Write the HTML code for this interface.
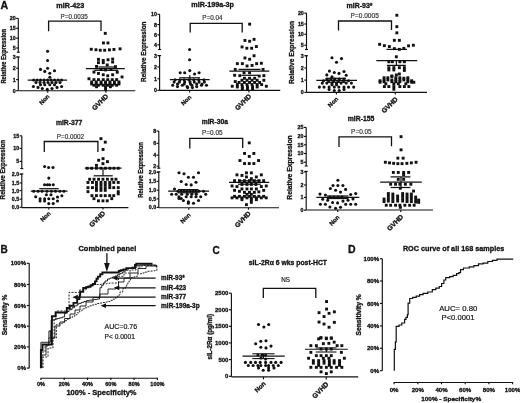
<!DOCTYPE html><html><head><meta charset="utf-8"><style>html,body{margin:0;padding:0;background:#fff;}svg{display:block;filter:blur(0.35px);}</style></head><body>
<svg width="520" height="403" viewBox="0 0 520 403" font-family='"Liberation Sans", sans-serif' fill="#111">
<rect width="520" height="403" fill="#fff"/>
<text x="0.5" y="9.0" font-size="10.6" font-weight="bold" stroke="#111" stroke-width="0.3" text-anchor="start" fill="#111">A</text>
<text x="0.4" y="253.3" font-size="10" font-weight="bold" stroke="#111" stroke-width="0.3" text-anchor="start" fill="#111">B</text>
<text x="212.5" y="253.8" font-size="10" font-weight="bold" stroke="#111" stroke-width="0.3" text-anchor="start" fill="#111">C</text>
<text x="348.0" y="252.8" font-size="10.5" font-weight="bold" stroke="#111" stroke-width="0.3" text-anchor="start" fill="#111">D</text>
<line x1="18.3" y1="18.4" x2="18.3" y2="52.2" stroke="#111" stroke-width="1.15"/>
<line x1="16.8" y1="52.2" x2="19.8" y2="52.2" stroke="#111" stroke-width="1.15"/>
<line x1="18.3" y1="57.0" x2="18.3" y2="90.7" stroke="#111" stroke-width="1.15"/>
<line x1="16.8" y1="57.0" x2="19.8" y2="57.0" stroke="#111" stroke-width="1.15"/>
<line x1="16.1" y1="18.4" x2="18.3" y2="18.4" stroke="#111" stroke-width="1.15"/>
<text x="15.6" y="20.31" font-size="5.3" font-weight="bold" stroke="#111" stroke-width="0.3" text-anchor="end" fill="#111">20</text>
<line x1="16.1" y1="28.3" x2="18.3" y2="28.3" stroke="#111" stroke-width="1.15"/>
<text x="15.6" y="30.21" font-size="5.3" font-weight="bold" stroke="#111" stroke-width="0.3" text-anchor="end" fill="#111">15</text>
<line x1="16.1" y1="38.2" x2="18.3" y2="38.2" stroke="#111" stroke-width="1.15"/>
<text x="15.6" y="40.11" font-size="5.3" font-weight="bold" stroke="#111" stroke-width="0.3" text-anchor="end" fill="#111">10</text>
<line x1="16.1" y1="48.0" x2="18.3" y2="48.0" stroke="#111" stroke-width="1.15"/>
<text x="15.6" y="49.91" font-size="5.3" font-weight="bold" stroke="#111" stroke-width="0.3" text-anchor="end" fill="#111">5</text>
<line x1="16.1" y1="57.0" x2="18.3" y2="57.0" stroke="#111" stroke-width="1.15"/>
<text x="15.6" y="58.91" font-size="5.3" font-weight="bold" stroke="#111" stroke-width="0.3" text-anchor="end" fill="#111">3</text>
<line x1="16.1" y1="68.2" x2="18.3" y2="68.2" stroke="#111" stroke-width="1.15"/>
<text x="15.6" y="70.11" font-size="5.3" font-weight="bold" stroke="#111" stroke-width="0.3" text-anchor="end" fill="#111">2</text>
<line x1="16.1" y1="79.6" x2="18.3" y2="79.6" stroke="#111" stroke-width="1.15"/>
<text x="15.6" y="81.51" font-size="5.3" font-weight="bold" stroke="#111" stroke-width="0.3" text-anchor="end" fill="#111">1</text>
<line x1="16.1" y1="90.7" x2="18.3" y2="90.7" stroke="#111" stroke-width="1.15"/>
<text x="15.6" y="92.61" font-size="5.3" font-weight="bold" stroke="#111" stroke-width="0.3" text-anchor="end" fill="#111">0</text>
<line x1="18.3" y1="90.7" x2="135.3" y2="90.7" stroke="#111" stroke-width="1.15"/>
<line x1="47.7" y1="90.7" x2="47.7" y2="92.7" stroke="#111" stroke-width="1.15"/>
<line x1="105.9" y1="90.7" x2="105.9" y2="92.7" stroke="#111" stroke-width="1.15"/>
<text transform="translate(49.9,96.9) rotate(-45)" font-size="6.0" font-weight="bold" stroke="#111" stroke-width="0.3" text-anchor="end" fill="#111">Non</text>
<text transform="translate(108.7,96.8) rotate(-45)" font-size="6.8" font-weight="bold" stroke="#111" stroke-width="0.3" text-anchor="end" fill="#111">GVHD</text>
<text transform="translate(5.8,56.3) rotate(-90)" font-size="6.4" font-weight="bold" stroke="#111" stroke-width="0.3" text-anchor="middle" textLength="54.6" lengthAdjust="spacingAndGlyphs" fill="#111">Relative Expression</text>
<text x="56.3" y="7.9" font-size="6.9" font-weight="bold" stroke="#111" stroke-width="0.3" text-anchor="start" textLength="28.0" lengthAdjust="spacingAndGlyphs" fill="#111">miR-423</text>
<text x="60.6" y="18.5" font-size="6.4" stroke="#333" stroke-width="0.18" text-anchor="start" textLength="27.1" lengthAdjust="spacingAndGlyphs" fill="#333">P=0.0035</text>
<polyline points="48.6,31.3 48.6,21.2 101.0,21.2 101.0,31.0" fill="none" stroke="#111" stroke-width="1.3" stroke-linejoin="miter"/>
<circle cx="47.6" cy="51.2" r="1.55"/>
<circle cx="47.6" cy="60.5" r="1.55"/>
<circle cx="47.6" cy="68.2" r="1.55"/>
<circle cx="40.5" cy="69.4" r="1.55"/>
<circle cx="54.5" cy="70.8" r="1.55"/>
<circle cx="44.8" cy="71.4" r="1.55"/>
<circle cx="49.8" cy="73.3" r="1.55"/>
<circle cx="49.8" cy="77.2" r="1.55"/>
<circle cx="33.7" cy="80.0" r="1.55"/>
<circle cx="37.2" cy="80.0" r="1.55"/>
<circle cx="40.6" cy="80.0" r="1.55"/>
<circle cx="44.1" cy="80.0" r="1.55"/>
<circle cx="47.6" cy="80.0" r="1.55"/>
<circle cx="51.1" cy="80.0" r="1.55"/>
<circle cx="54.6" cy="80.0" r="1.55"/>
<circle cx="58.1" cy="80.0" r="1.55"/>
<circle cx="61.6" cy="80.0" r="1.55"/>
<circle cx="36.0" cy="82.5" r="1.55"/>
<circle cx="40.0" cy="82.5" r="1.55"/>
<circle cx="44.0" cy="82.5" r="1.55"/>
<circle cx="48.0" cy="82.5" r="1.55"/>
<circle cx="52.0" cy="82.5" r="1.55"/>
<circle cx="56.0" cy="82.5" r="1.55"/>
<circle cx="60.0" cy="82.5" r="1.55"/>
<circle cx="40.5" cy="84.8" r="1.55"/>
<circle cx="44.8" cy="84.8" r="1.55"/>
<circle cx="49.8" cy="84.8" r="1.55"/>
<circle cx="54.5" cy="84.8" r="1.55"/>
<circle cx="33.4" cy="86.5" r="1.55"/>
<circle cx="61.6" cy="86.5" r="1.55"/>
<circle cx="38.0" cy="87.4" r="1.55"/>
<circle cx="57.0" cy="87.4" r="1.55"/>
<circle cx="42.3" cy="88.5" r="1.55"/>
<circle cx="52.0" cy="88.5" r="1.55"/>
<circle cx="47.3" cy="89.4" r="1.55"/>
<rect x="103.8" y="31.9" width="2.9" height="2.9"/>
<rect x="102.0" y="41.5" width="2.9" height="2.9"/>
<rect x="106.5" y="41.5" width="2.9" height="2.9"/>
<rect x="89.8" y="47.8" width="2.9" height="2.9"/>
<rect x="94.5" y="48.3" width="2.9" height="2.9"/>
<rect x="98.8" y="48.8" width="2.9" height="2.9"/>
<rect x="103.2" y="48.8" width="2.9" height="2.9"/>
<rect x="108.0" y="48.4" width="2.9" height="2.9"/>
<rect x="112.5" y="48.0" width="2.9" height="2.9"/>
<rect x="118.6" y="47.4" width="2.9" height="2.9"/>
<rect x="97.0" y="57.9" width="2.9" height="2.9"/>
<rect x="101.8" y="59.0" width="2.9" height="2.9"/>
<rect x="106.6" y="58.3" width="2.9" height="2.9"/>
<rect x="111.2" y="57.6" width="2.9" height="2.9"/>
<rect x="97.0" y="61.2" width="2.9" height="2.9"/>
<rect x="101.8" y="61.2" width="2.9" height="2.9"/>
<rect x="111.2" y="60.6" width="2.9" height="2.9"/>
<rect x="95.1" y="65.0" width="2.9" height="2.9"/>
<rect x="105.8" y="63.5" width="2.9" height="2.9"/>
<rect x="114.0" y="65.2" width="2.9" height="2.9"/>
<rect x="99.6" y="68.0" width="2.9" height="2.9"/>
<rect x="109.5" y="68.0" width="2.9" height="2.9"/>
<rect x="104.1" y="68.5" width="2.9" height="2.9"/>
<rect x="92.5" y="70.6" width="2.9" height="2.9"/>
<rect x="97.0" y="72.0" width="2.9" height="2.9"/>
<rect x="115.8" y="70.8" width="2.9" height="2.9"/>
<rect x="101.8" y="73.3" width="2.9" height="2.9"/>
<rect x="111.2" y="73.3" width="2.9" height="2.9"/>
<rect x="106.3" y="74.3" width="2.9" height="2.9"/>
<rect x="87.5" y="77.3" width="2.9" height="2.9"/>
<rect x="120.6" y="75.5" width="2.9" height="2.9"/>
<rect x="92.5" y="78.2" width="2.9" height="2.9"/>
<rect x="97.0" y="78.2" width="2.9" height="2.9"/>
<rect x="101.8" y="78.2" width="2.9" height="2.9"/>
<rect x="106.3" y="78.2" width="2.9" height="2.9"/>
<rect x="110.8" y="78.2" width="2.9" height="2.9"/>
<rect x="115.2" y="78.2" width="2.9" height="2.9"/>
<rect x="90.2" y="80.5" width="2.9" height="2.9"/>
<rect x="94.8" y="80.5" width="2.9" height="2.9"/>
<rect x="99.6" y="80.5" width="2.9" height="2.9"/>
<rect x="104.1" y="80.5" width="2.9" height="2.9"/>
<rect x="108.5" y="80.5" width="2.9" height="2.9"/>
<rect x="113.0" y="80.5" width="2.9" height="2.9"/>
<rect x="117.5" y="80.5" width="2.9" height="2.9"/>
<rect x="90.2" y="82.5" width="2.9" height="2.9"/>
<rect x="94.8" y="82.5" width="2.9" height="2.9"/>
<rect x="99.6" y="82.5" width="2.9" height="2.9"/>
<rect x="104.1" y="82.5" width="2.9" height="2.9"/>
<rect x="108.5" y="82.5" width="2.9" height="2.9"/>
<rect x="113.0" y="82.5" width="2.9" height="2.9"/>
<rect x="117.5" y="82.5" width="2.9" height="2.9"/>
<rect x="92.5" y="83.8" width="2.9" height="2.9"/>
<rect x="97.0" y="83.8" width="2.9" height="2.9"/>
<rect x="101.8" y="83.8" width="2.9" height="2.9"/>
<rect x="106.3" y="83.8" width="2.9" height="2.9"/>
<rect x="110.8" y="83.8" width="2.9" height="2.9"/>
<rect x="115.2" y="83.8" width="2.9" height="2.9"/>
<rect x="95.1" y="85.3" width="2.9" height="2.9"/>
<rect x="104.1" y="85.3" width="2.9" height="2.9"/>
<rect x="109.0" y="85.3" width="2.9" height="2.9"/>
<rect x="104.1" y="88.0" width="2.9" height="2.9"/>
<line x1="27.7" y1="80.0" x2="67.1" y2="80.0" stroke="#111" stroke-width="1.25"/>
<line x1="85.9" y1="68.5" x2="124.8" y2="68.5" stroke="#111" stroke-width="1.25"/>
<line x1="98.4" y1="67.0" x2="114.5" y2="67.0" stroke="#111" stroke-width="1.25"/>
<line x1="94.4" y1="70.3" x2="118.1" y2="70.3" stroke="#111" stroke-width="1.25"/>
<line x1="159.6" y1="14.3" x2="159.6" y2="49.5" stroke="#111" stroke-width="1.15"/>
<line x1="158.1" y1="49.5" x2="161.1" y2="49.5" stroke="#111" stroke-width="1.15"/>
<line x1="159.6" y1="55.6" x2="159.6" y2="90.4" stroke="#111" stroke-width="1.15"/>
<line x1="158.1" y1="55.6" x2="161.1" y2="55.6" stroke="#111" stroke-width="1.15"/>
<line x1="157.4" y1="14.3" x2="159.6" y2="14.3" stroke="#111" stroke-width="1.15"/>
<text x="156.9" y="16.21" font-size="5.3" font-weight="bold" stroke="#111" stroke-width="0.3" text-anchor="end" fill="#111">10</text>
<line x1="157.4" y1="24.6" x2="159.6" y2="24.6" stroke="#111" stroke-width="1.15"/>
<text x="156.9" y="26.51" font-size="5.3" font-weight="bold" stroke="#111" stroke-width="0.3" text-anchor="end" fill="#111">8</text>
<line x1="157.4" y1="34.8" x2="159.6" y2="34.8" stroke="#111" stroke-width="1.15"/>
<text x="156.9" y="36.71" font-size="5.3" font-weight="bold" stroke="#111" stroke-width="0.3" text-anchor="end" fill="#111">6</text>
<line x1="157.4" y1="44.8" x2="159.6" y2="44.8" stroke="#111" stroke-width="1.15"/>
<text x="156.9" y="46.71" font-size="5.3" font-weight="bold" stroke="#111" stroke-width="0.3" text-anchor="end" fill="#111">4</text>
<line x1="157.4" y1="55.6" x2="159.6" y2="55.6" stroke="#111" stroke-width="1.15"/>
<text x="156.9" y="57.51" font-size="5.3" font-weight="bold" stroke="#111" stroke-width="0.3" text-anchor="end" fill="#111">3</text>
<line x1="157.4" y1="67.0" x2="159.6" y2="67.0" stroke="#111" stroke-width="1.15"/>
<text x="156.9" y="68.91" font-size="5.3" font-weight="bold" stroke="#111" stroke-width="0.3" text-anchor="end" fill="#111">2</text>
<line x1="157.4" y1="78.8" x2="159.6" y2="78.8" stroke="#111" stroke-width="1.15"/>
<text x="156.9" y="80.71" font-size="5.3" font-weight="bold" stroke="#111" stroke-width="0.3" text-anchor="end" fill="#111">1</text>
<line x1="157.4" y1="90.4" x2="159.6" y2="90.4" stroke="#111" stroke-width="1.15"/>
<text x="156.9" y="92.31" font-size="5.3" font-weight="bold" stroke="#111" stroke-width="0.3" text-anchor="end" fill="#111">0</text>
<line x1="159.6" y1="90.4" x2="280.2" y2="90.4" stroke="#111" stroke-width="1.15"/>
<line x1="189.6" y1="90.4" x2="189.6" y2="92.4" stroke="#111" stroke-width="1.15"/>
<line x1="248.9" y1="90.4" x2="248.9" y2="92.4" stroke="#111" stroke-width="1.15"/>
<text transform="translate(191.8,97.6) rotate(-45)" font-size="6.0" font-weight="bold" stroke="#111" stroke-width="0.3" text-anchor="end" fill="#111">Non</text>
<text transform="translate(251.7,96.8) rotate(-45)" font-size="6.8" font-weight="bold" stroke="#111" stroke-width="0.3" text-anchor="end" fill="#111">GVHD</text>
<text transform="translate(146.45,51.75) rotate(-90)" font-size="6.8" font-weight="bold" stroke="#111" stroke-width="0.3" text-anchor="middle" textLength="60.3" lengthAdjust="spacingAndGlyphs" fill="#111">Relative Expression</text>
<text x="191.3" y="6.5" font-size="6.9" font-weight="bold" stroke="#111" stroke-width="0.3" text-anchor="start" textLength="42.7" lengthAdjust="spacingAndGlyphs" fill="#111">miR-199a-3p</text>
<text x="202.3" y="20.0" font-size="6.4" stroke="#333" stroke-width="0.18" text-anchor="start" textLength="20.2" lengthAdjust="spacingAndGlyphs" fill="#333">P=0.04</text>
<polyline points="190.2,32.6 190.2,23.3 242.2,23.3 242.2,32.6" fill="none" stroke="#111" stroke-width="1.3" stroke-linejoin="miter"/>
<circle cx="189.6" cy="49.5" r="1.55"/>
<circle cx="189.6" cy="59.8" r="1.55"/>
<circle cx="189.8" cy="70.6" r="1.55"/>
<circle cx="180.2" cy="72.7" r="1.55"/>
<circle cx="184.7" cy="72.7" r="1.55"/>
<circle cx="199.1" cy="72.7" r="1.55"/>
<circle cx="194.6" cy="74.0" r="1.55"/>
<circle cx="175.1" cy="79.7" r="1.55"/>
<circle cx="179.9" cy="79.7" r="1.55"/>
<circle cx="184.2" cy="79.7" r="1.55"/>
<circle cx="189.0" cy="79.7" r="1.55"/>
<circle cx="193.8" cy="79.7" r="1.55"/>
<circle cx="198.7" cy="79.7" r="1.55"/>
<circle cx="203.9" cy="79.7" r="1.55"/>
<circle cx="174.1" cy="82.1" r="1.55"/>
<circle cx="179.4" cy="82.1" r="1.55"/>
<circle cx="184.7" cy="82.1" r="1.55"/>
<circle cx="190.0" cy="82.1" r="1.55"/>
<circle cx="194.3" cy="82.1" r="1.55"/>
<circle cx="199.1" cy="82.1" r="1.55"/>
<circle cx="204.4" cy="82.1" r="1.55"/>
<circle cx="177.5" cy="84.0" r="1.55"/>
<circle cx="184.2" cy="84.0" r="1.55"/>
<circle cx="190.5" cy="84.0" r="1.55"/>
<circle cx="196.7" cy="84.0" r="1.55"/>
<circle cx="202.0" cy="84.0" r="1.55"/>
<circle cx="172.7" cy="85.2" r="1.55"/>
<circle cx="182.3" cy="85.2" r="1.55"/>
<circle cx="191.9" cy="85.2" r="1.55"/>
<circle cx="201.5" cy="85.2" r="1.55"/>
<circle cx="206.5" cy="85.2" r="1.55"/>
<circle cx="177.5" cy="86.6" r="1.55"/>
<circle cx="187.1" cy="86.6" r="1.55"/>
<circle cx="196.7" cy="86.6" r="1.55"/>
<circle cx="187.6" cy="87.6" r="1.55"/>
<circle cx="192.4" cy="87.6" r="1.55"/>
<rect x="248.2" y="22.7" width="2.9" height="2.9"/>
<rect x="243.5" y="39.0" width="2.9" height="2.9"/>
<rect x="248.2" y="39.8" width="2.9" height="2.9"/>
<rect x="252.6" y="37.9" width="2.9" height="2.9"/>
<rect x="240.6" y="45.5" width="2.9" height="2.9"/>
<rect x="245.4" y="46.8" width="2.9" height="2.9"/>
<rect x="250.2" y="46.8" width="2.9" height="2.9"/>
<rect x="254.9" y="45.1" width="2.9" height="2.9"/>
<rect x="243.5" y="56.5" width="2.9" height="2.9"/>
<rect x="248.2" y="57.8" width="2.9" height="2.9"/>
<rect x="252.6" y="54.3" width="2.9" height="2.9"/>
<rect x="235.9" y="62.2" width="2.9" height="2.9"/>
<rect x="240.9" y="62.2" width="2.9" height="2.9"/>
<rect x="255.2" y="62.2" width="2.9" height="2.9"/>
<rect x="245.6" y="64.5" width="2.9" height="2.9"/>
<rect x="250.6" y="64.0" width="2.9" height="2.9"/>
<rect x="259.9" y="61.8" width="2.9" height="2.9"/>
<rect x="233.8" y="68.0" width="2.9" height="2.9"/>
<rect x="261.6" y="68.0" width="2.9" height="2.9"/>
<rect x="242.6" y="71.3" width="2.9" height="2.9"/>
<rect x="248.1" y="71.3" width="2.9" height="2.9"/>
<rect x="233.2" y="73.8" width="2.9" height="2.9"/>
<rect x="238.4" y="74.2" width="2.9" height="2.9"/>
<rect x="262.4" y="74.2" width="2.9" height="2.9"/>
<rect x="257.8" y="74.6" width="2.9" height="2.9"/>
<rect x="243.0" y="76.8" width="2.9" height="2.9"/>
<rect x="248.1" y="76.8" width="2.9" height="2.9"/>
<rect x="253.2" y="76.8" width="2.9" height="2.9"/>
<rect x="240.5" y="78.8" width="2.9" height="2.9"/>
<rect x="245.6" y="78.8" width="2.9" height="2.9"/>
<rect x="250.6" y="78.8" width="2.9" height="2.9"/>
<rect x="255.7" y="78.8" width="2.9" height="2.9"/>
<rect x="262.4" y="78.8" width="2.9" height="2.9"/>
<rect x="233.8" y="80.1" width="2.9" height="2.9"/>
<rect x="237.6" y="81.0" width="2.9" height="2.9"/>
<rect x="243.0" y="81.0" width="2.9" height="2.9"/>
<rect x="248.1" y="81.0" width="2.9" height="2.9"/>
<rect x="253.2" y="81.0" width="2.9" height="2.9"/>
<rect x="258.2" y="81.0" width="2.9" height="2.9"/>
<rect x="235.9" y="83.1" width="2.9" height="2.9"/>
<rect x="240.5" y="83.1" width="2.9" height="2.9"/>
<rect x="245.6" y="83.1" width="2.9" height="2.9"/>
<rect x="250.6" y="83.1" width="2.9" height="2.9"/>
<rect x="255.7" y="83.1" width="2.9" height="2.9"/>
<rect x="260.2" y="83.1" width="2.9" height="2.9"/>
<rect x="230.8" y="84.8" width="2.9" height="2.9"/>
<rect x="264.9" y="84.8" width="2.9" height="2.9"/>
<rect x="235.9" y="85.5" width="2.9" height="2.9"/>
<rect x="240.9" y="85.5" width="2.9" height="2.9"/>
<rect x="246.0" y="85.5" width="2.9" height="2.9"/>
<rect x="251.1" y="85.5" width="2.9" height="2.9"/>
<rect x="255.7" y="85.5" width="2.9" height="2.9"/>
<rect x="240.9" y="87.1" width="2.9" height="2.9"/>
<rect x="246.0" y="87.1" width="2.9" height="2.9"/>
<rect x="251.1" y="87.1" width="2.9" height="2.9"/>
<line x1="169.8" y1="79.7" x2="209.7" y2="79.7" stroke="#111" stroke-width="1.25"/>
<line x1="179.4" y1="77.8" x2="200.1" y2="77.8" stroke="#111" stroke-width="1.25"/>
<line x1="229.3" y1="71.1" x2="269.3" y2="71.1" stroke="#111" stroke-width="1.25"/>
<line x1="238.5" y1="69.4" x2="260.5" y2="69.4" stroke="#111" stroke-width="1.25"/>
<line x1="241.5" y1="75.3" x2="258.0" y2="75.3" stroke="#111" stroke-width="1.25"/>
<line x1="189.8" y1="74.9" x2="189.8" y2="80.7" stroke="#111" stroke-width="1.2"/>
<line x1="306.5" y1="13.1" x2="306.5" y2="49.5" stroke="#111" stroke-width="1.15"/>
<line x1="305.0" y1="49.5" x2="308.0" y2="49.5" stroke="#111" stroke-width="1.15"/>
<line x1="306.5" y1="55.7" x2="306.5" y2="92.4" stroke="#111" stroke-width="1.15"/>
<line x1="305.0" y1="55.7" x2="308.0" y2="55.7" stroke="#111" stroke-width="1.15"/>
<line x1="304.3" y1="13.1" x2="306.5" y2="13.1" stroke="#111" stroke-width="1.15"/>
<text x="303.8" y="15.01" font-size="5.3" font-weight="bold" stroke="#111" stroke-width="0.3" text-anchor="end" fill="#111">20</text>
<line x1="304.3" y1="24.0" x2="306.5" y2="24.0" stroke="#111" stroke-width="1.15"/>
<text x="303.8" y="25.91" font-size="5.3" font-weight="bold" stroke="#111" stroke-width="0.3" text-anchor="end" fill="#111">15</text>
<line x1="304.3" y1="34.3" x2="306.5" y2="34.3" stroke="#111" stroke-width="1.15"/>
<text x="303.8" y="36.21" font-size="5.3" font-weight="bold" stroke="#111" stroke-width="0.3" text-anchor="end" fill="#111">10</text>
<line x1="304.3" y1="45.2" x2="306.5" y2="45.2" stroke="#111" stroke-width="1.15"/>
<text x="303.8" y="47.11" font-size="5.3" font-weight="bold" stroke="#111" stroke-width="0.3" text-anchor="end" fill="#111">5</text>
<line x1="304.3" y1="55.7" x2="306.5" y2="55.7" stroke="#111" stroke-width="1.15"/>
<text x="303.8" y="57.61" font-size="5.3" font-weight="bold" stroke="#111" stroke-width="0.3" text-anchor="end" fill="#111">3</text>
<line x1="304.3" y1="68.0" x2="306.5" y2="68.0" stroke="#111" stroke-width="1.15"/>
<text x="303.8" y="69.91" font-size="5.3" font-weight="bold" stroke="#111" stroke-width="0.3" text-anchor="end" fill="#111">2</text>
<line x1="304.3" y1="80.1" x2="306.5" y2="80.1" stroke="#111" stroke-width="1.15"/>
<text x="303.8" y="82.01" font-size="5.3" font-weight="bold" stroke="#111" stroke-width="0.3" text-anchor="end" fill="#111">1</text>
<line x1="304.3" y1="92.4" x2="306.5" y2="92.4" stroke="#111" stroke-width="1.15"/>
<text x="303.8" y="94.31" font-size="5.3" font-weight="bold" stroke="#111" stroke-width="0.3" text-anchor="end" fill="#111">0</text>
<line x1="306.5" y1="92.4" x2="427.0" y2="92.4" stroke="#111" stroke-width="1.15"/>
<line x1="336.4" y1="92.4" x2="336.4" y2="94.4" stroke="#111" stroke-width="1.15"/>
<line x1="395.3" y1="92.4" x2="395.3" y2="94.4" stroke="#111" stroke-width="1.15"/>
<text transform="translate(338.6,99.4) rotate(-45)" font-size="6.0" font-weight="bold" stroke="#111" stroke-width="0.3" text-anchor="end" fill="#111">Non</text>
<text transform="translate(398.1,99.7) rotate(-45)" font-size="6.8" font-weight="bold" stroke="#111" stroke-width="0.3" text-anchor="end" fill="#111">GVHD</text>
<text transform="translate(293.78,52.5) rotate(-90)" font-size="6.9" font-weight="bold" stroke="#111" stroke-width="0.3" text-anchor="middle" textLength="63.0" lengthAdjust="spacingAndGlyphs" fill="#111">Relative Expression</text>
<text x="346.5" y="7.8" font-size="6.9" font-weight="bold" stroke="#111" stroke-width="0.3" text-anchor="start" textLength="26.0" lengthAdjust="spacingAndGlyphs" fill="#111">miR-93*</text>
<text x="350.6" y="18.2" font-size="6.4" stroke="#333" stroke-width="0.18" text-anchor="start" textLength="28.2" lengthAdjust="spacingAndGlyphs" fill="#333">P=0.0005</text>
<polyline points="338.5,30.5 338.5,21.0 391.5,21.0 391.5,30.0" fill="none" stroke="#111" stroke-width="1.3" stroke-linejoin="miter"/>
<circle cx="332.0" cy="57.8" r="1.55"/>
<circle cx="341.5" cy="58.6" r="1.55"/>
<circle cx="336.5" cy="62.3" r="1.55"/>
<circle cx="329.4" cy="71.1" r="1.55"/>
<circle cx="334.3" cy="72.5" r="1.55"/>
<circle cx="339.0" cy="73.4" r="1.55"/>
<circle cx="344.0" cy="71.5" r="1.55"/>
<circle cx="326.8" cy="74.9" r="1.55"/>
<circle cx="346.2" cy="75.3" r="1.55"/>
<circle cx="332.0" cy="76.8" r="1.55"/>
<circle cx="326.8" cy="79.1" r="1.55"/>
<circle cx="330.8" cy="79.1" r="1.55"/>
<circle cx="334.8" cy="79.1" r="1.55"/>
<circle cx="339.4" cy="79.1" r="1.55"/>
<circle cx="344.0" cy="79.1" r="1.55"/>
<circle cx="323.5" cy="80.8" r="1.55"/>
<circle cx="328.5" cy="80.8" r="1.55"/>
<circle cx="333.5" cy="80.8" r="1.55"/>
<circle cx="338.5" cy="80.8" r="1.55"/>
<circle cx="343.5" cy="80.8" r="1.55"/>
<circle cx="348.5" cy="80.8" r="1.55"/>
<circle cx="322.3" cy="83.1" r="1.55"/>
<circle cx="326.8" cy="83.1" r="1.55"/>
<circle cx="332.0" cy="83.1" r="1.55"/>
<circle cx="336.5" cy="83.1" r="1.55"/>
<circle cx="341.1" cy="83.1" r="1.55"/>
<circle cx="346.2" cy="83.1" r="1.55"/>
<circle cx="351.4" cy="83.1" r="1.55"/>
<circle cx="332.0" cy="84.8" r="1.55"/>
<circle cx="336.5" cy="84.8" r="1.55"/>
<circle cx="319.4" cy="87.1" r="1.55"/>
<circle cx="324.0" cy="87.1" r="1.55"/>
<circle cx="329.1" cy="87.1" r="1.55"/>
<circle cx="334.3" cy="87.1" r="1.55"/>
<circle cx="338.8" cy="87.1" r="1.55"/>
<circle cx="344.0" cy="87.1" r="1.55"/>
<circle cx="348.5" cy="87.1" r="1.55"/>
<circle cx="353.7" cy="87.1" r="1.55"/>
<circle cx="329.1" cy="89.4" r="1.55"/>
<circle cx="344.0" cy="89.4" r="1.55"/>
<circle cx="334.3" cy="90.5" r="1.55"/>
<circle cx="339.2" cy="90.5" r="1.55"/>
<rect x="395.4" y="13.8" width="2.9" height="2.9"/>
<rect x="395.4" y="25.2" width="2.9" height="2.9"/>
<rect x="395.4" y="31.4" width="2.9" height="2.9"/>
<rect x="392.9" y="38.9" width="2.9" height="2.9"/>
<rect x="397.9" y="38.9" width="2.9" height="2.9"/>
<rect x="378.2" y="42.9" width="2.9" height="2.9"/>
<rect x="382.9" y="44.2" width="2.9" height="2.9"/>
<rect x="387.9" y="45.1" width="2.9" height="2.9"/>
<rect x="392.9" y="47.2" width="2.9" height="2.9"/>
<rect x="397.9" y="47.9" width="2.9" height="2.9"/>
<rect x="402.4" y="46.9" width="2.9" height="2.9"/>
<rect x="407.1" y="44.4" width="2.9" height="2.9"/>
<rect x="411.9" y="43.8" width="2.9" height="2.9"/>
<rect x="394.9" y="55.3" width="2.9" height="2.9"/>
<rect x="387.4" y="60.3" width="2.9" height="2.9"/>
<rect x="390.9" y="60.3" width="2.9" height="2.9"/>
<rect x="398.4" y="60.3" width="2.9" height="2.9"/>
<rect x="402.9" y="60.3" width="2.9" height="2.9"/>
<rect x="387.4" y="66.2" width="2.9" height="2.9"/>
<rect x="392.4" y="66.2" width="2.9" height="2.9"/>
<rect x="397.9" y="66.2" width="2.9" height="2.9"/>
<rect x="402.9" y="66.2" width="2.9" height="2.9"/>
<rect x="387.4" y="68.5" width="2.9" height="2.9"/>
<rect x="392.4" y="68.5" width="2.9" height="2.9"/>
<rect x="402.9" y="69.0" width="2.9" height="2.9"/>
<rect x="394.9" y="73.5" width="2.9" height="2.9"/>
<rect x="397.9" y="72.5" width="2.9" height="2.9"/>
<rect x="390.4" y="74.5" width="2.9" height="2.9"/>
<rect x="382.6" y="76.3" width="2.9" height="2.9"/>
<rect x="386.4" y="76.3" width="2.9" height="2.9"/>
<rect x="394.4" y="76.3" width="2.9" height="2.9"/>
<rect x="398.4" y="76.3" width="2.9" height="2.9"/>
<rect x="406.4" y="76.3" width="2.9" height="2.9"/>
<rect x="390.4" y="75.0" width="2.9" height="2.9"/>
<rect x="402.4" y="76.8" width="2.9" height="2.9"/>
<rect x="382.6" y="78.5" width="2.9" height="2.9"/>
<rect x="386.4" y="78.5" width="2.9" height="2.9"/>
<rect x="394.4" y="78.5" width="2.9" height="2.9"/>
<rect x="398.4" y="78.5" width="2.9" height="2.9"/>
<rect x="406.4" y="78.5" width="2.9" height="2.9"/>
<rect x="390.4" y="78.5" width="2.9" height="2.9"/>
<rect x="402.4" y="78.5" width="2.9" height="2.9"/>
<rect x="378.6" y="79.3" width="2.9" height="2.9"/>
<rect x="410.2" y="79.3" width="2.9" height="2.9"/>
<rect x="382.6" y="80.3" width="2.9" height="2.9"/>
<rect x="394.4" y="80.3" width="2.9" height="2.9"/>
<rect x="398.4" y="80.3" width="2.9" height="2.9"/>
<rect x="406.4" y="80.3" width="2.9" height="2.9"/>
<rect x="390.4" y="80.3" width="2.9" height="2.9"/>
<rect x="378.6" y="80.8" width="2.9" height="2.9"/>
<rect x="410.2" y="80.8" width="2.9" height="2.9"/>
<rect x="412.4" y="80.8" width="2.9" height="2.9"/>
<rect x="384.4" y="82.3" width="2.9" height="2.9"/>
<rect x="392.4" y="82.3" width="2.9" height="2.9"/>
<rect x="396.9" y="82.3" width="2.9" height="2.9"/>
<rect x="404.4" y="82.3" width="2.9" height="2.9"/>
<rect x="382.9" y="85.1" width="2.9" height="2.9"/>
<rect x="387.4" y="85.1" width="2.9" height="2.9"/>
<rect x="392.4" y="85.1" width="2.9" height="2.9"/>
<rect x="398.4" y="85.1" width="2.9" height="2.9"/>
<rect x="402.9" y="85.1" width="2.9" height="2.9"/>
<rect x="407.4" y="85.1" width="2.9" height="2.9"/>
<rect x="392.4" y="87.8" width="2.9" height="2.9"/>
<line x1="316.3" y1="80.3" x2="357.0" y2="80.3" stroke="#111" stroke-width="1.25"/>
<line x1="327.0" y1="78.3" x2="346.0" y2="78.3" stroke="#111" stroke-width="1.25"/>
<line x1="327.0" y1="82.3" x2="346.0" y2="82.3" stroke="#111" stroke-width="1.25"/>
<line x1="376.3" y1="60.5" x2="417.2" y2="60.5" stroke="#111" stroke-width="1.25"/>
<line x1="386.5" y1="49.4" x2="407.0" y2="49.4" stroke="#111" stroke-width="1.25"/>
<line x1="386.9" y1="65.4" x2="405.8" y2="65.4" stroke="#111" stroke-width="1.25"/>
<line x1="396.4" y1="60.0" x2="396.4" y2="65.4" stroke="#111" stroke-width="1.2"/>
<line x1="21.8" y1="135.8" x2="21.8" y2="168.6" stroke="#111" stroke-width="1.15"/>
<line x1="20.3" y1="168.6" x2="23.3" y2="168.6" stroke="#111" stroke-width="1.15"/>
<line x1="21.8" y1="173.9" x2="21.8" y2="207.6" stroke="#111" stroke-width="1.15"/>
<line x1="20.3" y1="173.9" x2="23.3" y2="173.9" stroke="#111" stroke-width="1.15"/>
<line x1="19.6" y1="135.8" x2="21.8" y2="135.8" stroke="#111" stroke-width="1.15"/>
<text x="19.1" y="137.71" font-size="5.3" font-weight="bold" stroke="#111" stroke-width="0.3" text-anchor="end" fill="#111">15</text>
<line x1="19.6" y1="148.4" x2="21.8" y2="148.4" stroke="#111" stroke-width="1.15"/>
<text x="19.1" y="150.31" font-size="5.3" font-weight="bold" stroke="#111" stroke-width="0.3" text-anchor="end" fill="#111">10</text>
<line x1="19.6" y1="161.4" x2="21.8" y2="161.4" stroke="#111" stroke-width="1.15"/>
<text x="19.1" y="163.31" font-size="5.3" font-weight="bold" stroke="#111" stroke-width="0.3" text-anchor="end" fill="#111">5</text>
<line x1="19.6" y1="174.2" x2="21.8" y2="174.2" stroke="#111" stroke-width="1.15"/>
<text x="19.1" y="176.11" font-size="5.3" font-weight="bold" stroke="#111" stroke-width="0.3" text-anchor="end" fill="#111">2.0</text>
<line x1="19.6" y1="182.9" x2="21.8" y2="182.9" stroke="#111" stroke-width="1.15"/>
<text x="19.1" y="184.81" font-size="5.3" font-weight="bold" stroke="#111" stroke-width="0.3" text-anchor="end" fill="#111">1.5</text>
<line x1="19.6" y1="190.6" x2="21.8" y2="190.6" stroke="#111" stroke-width="1.15"/>
<text x="19.1" y="192.51" font-size="5.3" font-weight="bold" stroke="#111" stroke-width="0.3" text-anchor="end" fill="#111">1.0</text>
<line x1="19.6" y1="199.2" x2="21.8" y2="199.2" stroke="#111" stroke-width="1.15"/>
<text x="19.1" y="201.11" font-size="5.3" font-weight="bold" stroke="#111" stroke-width="0.3" text-anchor="end" fill="#111">0.5</text>
<line x1="19.6" y1="207.3" x2="21.8" y2="207.3" stroke="#111" stroke-width="1.15"/>
<text x="19.1" y="209.21" font-size="5.3" font-weight="bold" stroke="#111" stroke-width="0.3" text-anchor="end" fill="#111">0.0</text>
<line x1="21.8" y1="207.6" x2="128.4" y2="207.6" stroke="#111" stroke-width="1.15"/>
<line x1="48.8" y1="207.6" x2="48.8" y2="209.6" stroke="#111" stroke-width="1.15"/>
<line x1="103.0" y1="207.6" x2="103.0" y2="209.6" stroke="#111" stroke-width="1.15"/>
<text transform="translate(51.0,213.8) rotate(-45)" font-size="6.0" font-weight="bold" stroke="#111" stroke-width="0.3" text-anchor="end" fill="#111">Non</text>
<text transform="translate(105.8,213.7) rotate(-45)" font-size="6.8" font-weight="bold" stroke="#111" stroke-width="0.3" text-anchor="end" fill="#111">GVHD</text>
<text transform="translate(5.35,169.6) rotate(-90)" font-size="6.8" font-weight="bold" stroke="#111" stroke-width="0.3" text-anchor="middle" textLength="59.6" lengthAdjust="spacingAndGlyphs" fill="#111">Relative Expression</text>
<text x="55.9" y="124.9" font-size="6.9" font-weight="bold" stroke="#111" stroke-width="0.3" text-anchor="start" textLength="26.5" lengthAdjust="spacingAndGlyphs" fill="#111">miR-377</text>
<text x="56.7" y="138.5" font-size="6.4" stroke="#333" stroke-width="0.18" text-anchor="start" textLength="27.4" lengthAdjust="spacingAndGlyphs" fill="#333">P=0.0002</text>
<polyline points="44.3,152.0 44.3,141.5 97.9,141.5 97.9,152.0" fill="none" stroke="#111" stroke-width="1.3" stroke-linejoin="miter"/>
<circle cx="44.6" cy="166.5" r="1.55"/>
<circle cx="48.6" cy="167.5" r="1.55"/>
<circle cx="53.0" cy="167.5" r="1.55"/>
<circle cx="48.8" cy="178.1" r="1.55"/>
<circle cx="44.6" cy="184.8" r="1.55"/>
<circle cx="47.4" cy="184.8" r="1.55"/>
<circle cx="49.6" cy="184.8" r="1.55"/>
<circle cx="53.2" cy="184.8" r="1.55"/>
<circle cx="33.7" cy="191.2" r="1.55"/>
<circle cx="38.1" cy="191.2" r="1.55"/>
<circle cx="42.1" cy="191.2" r="1.55"/>
<circle cx="47.0" cy="191.2" r="1.55"/>
<circle cx="51.4" cy="191.2" r="1.55"/>
<circle cx="55.5" cy="191.2" r="1.55"/>
<circle cx="59.9" cy="191.2" r="1.55"/>
<circle cx="63.9" cy="191.2" r="1.55"/>
<circle cx="46.4" cy="194.8" r="1.55"/>
<circle cx="51.0" cy="194.8" r="1.55"/>
<circle cx="35.7" cy="196.8" r="1.55"/>
<circle cx="61.9" cy="195.8" r="1.55"/>
<circle cx="40.1" cy="198.8" r="1.55"/>
<circle cx="44.6" cy="198.8" r="1.55"/>
<circle cx="48.8" cy="198.8" r="1.55"/>
<circle cx="53.2" cy="198.8" r="1.55"/>
<circle cx="57.5" cy="197.0" r="1.55"/>
<circle cx="40.1" cy="201.0" r="1.55"/>
<circle cx="44.6" cy="201.0" r="1.55"/>
<circle cx="57.5" cy="201.0" r="1.55"/>
<circle cx="48.8" cy="203.6" r="1.55"/>
<circle cx="53.2" cy="203.6" r="1.55"/>
<rect x="99.5" y="137.2" width="2.9" height="2.9"/>
<rect x="103.8" y="140.7" width="2.9" height="2.9"/>
<rect x="101.6" y="148.0" width="2.9" height="2.9"/>
<rect x="101.6" y="157.2" width="2.9" height="2.9"/>
<rect x="97.2" y="158.8" width="2.9" height="2.9"/>
<rect x="106.0" y="160.2" width="2.9" height="2.9"/>
<rect x="101.5" y="162.2" width="2.9" height="2.9"/>
<rect x="95.0" y="163.9" width="2.9" height="2.9"/>
<rect x="85.8" y="166.8" width="2.9" height="2.9"/>
<rect x="90.2" y="166.8" width="2.9" height="2.9"/>
<rect x="95.0" y="166.8" width="2.9" height="2.9"/>
<rect x="99.5" y="166.8" width="2.9" height="2.9"/>
<rect x="104.0" y="166.8" width="2.9" height="2.9"/>
<rect x="108.5" y="166.8" width="2.9" height="2.9"/>
<rect x="112.5" y="166.8" width="2.9" height="2.9"/>
<rect x="116.8" y="166.8" width="2.9" height="2.9"/>
<rect x="88.2" y="177.8" width="2.9" height="2.9"/>
<rect x="92.6" y="177.8" width="2.9" height="2.9"/>
<rect x="97.1" y="177.8" width="2.9" height="2.9"/>
<rect x="101.5" y="177.8" width="2.9" height="2.9"/>
<rect x="106.0" y="177.8" width="2.9" height="2.9"/>
<rect x="110.5" y="177.8" width="2.9" height="2.9"/>
<rect x="114.5" y="177.8" width="2.9" height="2.9"/>
<rect x="86.5" y="181.0" width="2.9" height="2.9"/>
<rect x="91.0" y="181.0" width="2.9" height="2.9"/>
<rect x="95.0" y="181.0" width="2.9" height="2.9"/>
<rect x="99.5" y="181.0" width="2.9" height="2.9"/>
<rect x="103.8" y="181.0" width="2.9" height="2.9"/>
<rect x="108.3" y="181.0" width="2.9" height="2.9"/>
<rect x="112.3" y="181.0" width="2.9" height="2.9"/>
<rect x="116.8" y="181.0" width="2.9" height="2.9"/>
<rect x="95.0" y="183.5" width="2.9" height="2.9"/>
<rect x="99.5" y="183.5" width="2.9" height="2.9"/>
<rect x="103.8" y="183.5" width="2.9" height="2.9"/>
<rect x="108.3" y="183.5" width="2.9" height="2.9"/>
<rect x="86.5" y="186.2" width="2.9" height="2.9"/>
<rect x="91.0" y="186.2" width="2.9" height="2.9"/>
<rect x="95.0" y="186.2" width="2.9" height="2.9"/>
<rect x="99.5" y="186.2" width="2.9" height="2.9"/>
<rect x="103.8" y="186.2" width="2.9" height="2.9"/>
<rect x="108.3" y="186.2" width="2.9" height="2.9"/>
<rect x="112.3" y="186.2" width="2.9" height="2.9"/>
<rect x="116.8" y="186.2" width="2.9" height="2.9"/>
<rect x="95.0" y="188.9" width="2.9" height="2.9"/>
<rect x="99.5" y="188.9" width="2.9" height="2.9"/>
<rect x="103.8" y="188.9" width="2.9" height="2.9"/>
<rect x="86.5" y="190.2" width="2.9" height="2.9"/>
<rect x="116.8" y="190.2" width="2.9" height="2.9"/>
<rect x="116.8" y="192.4" width="2.9" height="2.9"/>
<rect x="90.5" y="194.2" width="2.9" height="2.9"/>
<rect x="95.0" y="194.2" width="2.9" height="2.9"/>
<rect x="99.5" y="194.2" width="2.9" height="2.9"/>
<rect x="103.8" y="194.2" width="2.9" height="2.9"/>
<rect x="108.3" y="194.2" width="2.9" height="2.9"/>
<rect x="112.3" y="194.2" width="2.9" height="2.9"/>
<rect x="92.5" y="197.2" width="2.9" height="2.9"/>
<rect x="110.3" y="197.2" width="2.9" height="2.9"/>
<rect x="97.0" y="199.4" width="2.9" height="2.9"/>
<rect x="101.5" y="199.4" width="2.9" height="2.9"/>
<rect x="105.8" y="199.4" width="2.9" height="2.9"/>
<line x1="30.8" y1="191.2" x2="67.6" y2="191.2" stroke="#111" stroke-width="1.25"/>
<line x1="39.3" y1="188.7" x2="58.7" y2="188.7" stroke="#111" stroke-width="1.25"/>
<line x1="84.8" y1="168.2" x2="121.6" y2="168.2" stroke="#111" stroke-width="1.25"/>
<line x1="93.7" y1="175.8" x2="112.7" y2="175.8" stroke="#111" stroke-width="1.25"/>
<line x1="103.0" y1="168.2" x2="103.0" y2="175.8" stroke="#111" stroke-width="1.2"/>
<line x1="158.8" y1="131.0" x2="158.8" y2="168.2" stroke="#111" stroke-width="1.15"/>
<line x1="157.3" y1="168.2" x2="160.3" y2="168.2" stroke="#111" stroke-width="1.15"/>
<line x1="158.8" y1="171.8" x2="158.8" y2="207.7" stroke="#111" stroke-width="1.15"/>
<line x1="157.3" y1="171.8" x2="160.3" y2="171.8" stroke="#111" stroke-width="1.15"/>
<line x1="156.6" y1="131.0" x2="158.8" y2="131.0" stroke="#111" stroke-width="1.15"/>
<text x="156.1" y="132.91" font-size="5.3" font-weight="bold" stroke="#111" stroke-width="0.3" text-anchor="end" fill="#111">8</text>
<line x1="156.6" y1="143.3" x2="158.8" y2="143.3" stroke="#111" stroke-width="1.15"/>
<text x="156.1" y="145.21" font-size="5.3" font-weight="bold" stroke="#111" stroke-width="0.3" text-anchor="end" fill="#111">6</text>
<line x1="156.6" y1="155.1" x2="158.8" y2="155.1" stroke="#111" stroke-width="1.15"/>
<text x="156.1" y="157.01" font-size="5.3" font-weight="bold" stroke="#111" stroke-width="0.3" text-anchor="end" fill="#111">4</text>
<line x1="156.6" y1="166.2" x2="158.8" y2="166.2" stroke="#111" stroke-width="1.15"/>
<text x="156.1" y="168.11" font-size="5.3" font-weight="bold" stroke="#111" stroke-width="0.3" text-anchor="end" fill="#111">2</text>
<line x1="156.6" y1="172.4" x2="158.8" y2="172.4" stroke="#111" stroke-width="1.15"/>
<text x="156.1" y="174.31" font-size="5.3" font-weight="bold" stroke="#111" stroke-width="0.3" text-anchor="end" fill="#111">2.0</text>
<line x1="156.6" y1="181.4" x2="158.8" y2="181.4" stroke="#111" stroke-width="1.15"/>
<text x="156.1" y="183.31" font-size="5.3" font-weight="bold" stroke="#111" stroke-width="0.3" text-anchor="end" fill="#111">1.5</text>
<line x1="156.6" y1="190.2" x2="158.8" y2="190.2" stroke="#111" stroke-width="1.15"/>
<text x="156.1" y="192.11" font-size="5.3" font-weight="bold" stroke="#111" stroke-width="0.3" text-anchor="end" fill="#111">1.0</text>
<line x1="156.6" y1="198.9" x2="158.8" y2="198.9" stroke="#111" stroke-width="1.15"/>
<text x="156.1" y="200.81" font-size="5.3" font-weight="bold" stroke="#111" stroke-width="0.3" text-anchor="end" fill="#111">0.5</text>
<line x1="156.6" y1="207.4" x2="158.8" y2="207.4" stroke="#111" stroke-width="1.15"/>
<text x="156.1" y="209.31" font-size="5.3" font-weight="bold" stroke="#111" stroke-width="0.3" text-anchor="end" fill="#111">0.0</text>
<line x1="158.8" y1="207.7" x2="279.0" y2="207.7" stroke="#111" stroke-width="1.15"/>
<line x1="188.8" y1="207.7" x2="188.8" y2="209.7" stroke="#111" stroke-width="1.15"/>
<line x1="248.5" y1="207.7" x2="248.5" y2="209.7" stroke="#111" stroke-width="1.15"/>
<text transform="translate(191.0,215.4) rotate(-45)" font-size="6.0" font-weight="bold" stroke="#111" stroke-width="0.3" text-anchor="end" fill="#111">Non</text>
<text transform="translate(251.3,214.1) rotate(-45)" font-size="6.8" font-weight="bold" stroke="#111" stroke-width="0.3" text-anchor="end" fill="#111">GVHD</text>
<text transform="translate(143.38,169.9) rotate(-90)" font-size="6.6" font-weight="bold" stroke="#111" stroke-width="0.3" text-anchor="middle" textLength="55.5" lengthAdjust="spacingAndGlyphs" fill="#111">Relative Expression</text>
<text x="201.7" y="124.1" font-size="6.9" font-weight="bold" stroke="#111" stroke-width="0.3" text-anchor="start" textLength="26.2" lengthAdjust="spacingAndGlyphs" fill="#111">miR-30a</text>
<text x="202.1" y="135.1" font-size="6.4" stroke="#333" stroke-width="0.18" text-anchor="start" textLength="20.4" lengthAdjust="spacingAndGlyphs" fill="#333">P=0.05</text>
<polyline points="189.8,148.5 189.8,138.3 242.7,138.3 242.7,148.0" fill="none" stroke="#111" stroke-width="1.3" stroke-linejoin="miter"/>
<circle cx="179.0" cy="172.8" r="1.55"/>
<circle cx="198.5" cy="172.8" r="1.55"/>
<circle cx="184.0" cy="173.7" r="1.55"/>
<circle cx="188.4" cy="177.3" r="1.55"/>
<circle cx="193.5" cy="177.3" r="1.55"/>
<circle cx="181.2" cy="181.5" r="1.55"/>
<circle cx="196.0" cy="182.3" r="1.55"/>
<circle cx="186.2" cy="184.5" r="1.55"/>
<circle cx="191.2" cy="184.9" r="1.55"/>
<circle cx="174.5" cy="189.0" r="1.55"/>
<circle cx="178.0" cy="191.2" r="1.55"/>
<circle cx="181.0" cy="191.2" r="1.55"/>
<circle cx="184.0" cy="191.2" r="1.55"/>
<circle cx="187.0" cy="191.2" r="1.55"/>
<circle cx="190.0" cy="191.2" r="1.55"/>
<circle cx="193.0" cy="191.2" r="1.55"/>
<circle cx="196.0" cy="191.2" r="1.55"/>
<circle cx="199.0" cy="191.2" r="1.55"/>
<circle cx="203.5" cy="191.2" r="1.55"/>
<circle cx="171.7" cy="194.2" r="1.55"/>
<circle cx="176.2" cy="194.2" r="1.55"/>
<circle cx="181.7" cy="194.2" r="1.55"/>
<circle cx="187.3" cy="194.2" r="1.55"/>
<circle cx="191.8" cy="194.2" r="1.55"/>
<circle cx="196.3" cy="194.2" r="1.55"/>
<circle cx="205.7" cy="194.2" r="1.55"/>
<circle cx="179.0" cy="196.8" r="1.55"/>
<circle cx="186.2" cy="196.8" r="1.55"/>
<circle cx="191.2" cy="196.8" r="1.55"/>
<circle cx="196.0" cy="196.8" r="1.55"/>
<circle cx="200.7" cy="196.8" r="1.55"/>
<circle cx="179.0" cy="198.5" r="1.55"/>
<circle cx="181.2" cy="198.5" r="1.55"/>
<circle cx="183.4" cy="200.5" r="1.55"/>
<circle cx="198.5" cy="200.5" r="1.55"/>
<circle cx="188.4" cy="201.8" r="1.55"/>
<circle cx="188.4" cy="203.2" r="1.55"/>
<circle cx="193.5" cy="203.2" r="1.55"/>
<rect x="247.8" y="141.4" width="2.9" height="2.9"/>
<rect x="243.1" y="152.0" width="2.9" height="2.9"/>
<rect x="252.4" y="152.0" width="2.9" height="2.9"/>
<rect x="247.8" y="155.0" width="2.9" height="2.9"/>
<rect x="238.5" y="159.1" width="2.9" height="2.9"/>
<rect x="257.1" y="159.1" width="2.9" height="2.9"/>
<rect x="243.1" y="162.1" width="2.9" height="2.9"/>
<rect x="247.8" y="162.1" width="2.9" height="2.9"/>
<rect x="252.4" y="162.1" width="2.9" height="2.9"/>
<rect x="245.0" y="171.4" width="2.9" height="2.9"/>
<rect x="249.9" y="171.4" width="2.9" height="2.9"/>
<rect x="235.5" y="173.4" width="2.9" height="2.9"/>
<rect x="259.9" y="173.4" width="2.9" height="2.9"/>
<rect x="240.5" y="174.0" width="2.9" height="2.9"/>
<rect x="245.0" y="175.5" width="2.9" height="2.9"/>
<rect x="254.9" y="175.5" width="2.9" height="2.9"/>
<rect x="249.9" y="177.2" width="2.9" height="2.9"/>
<rect x="233.1" y="179.2" width="2.9" height="2.9"/>
<rect x="238.0" y="179.2" width="2.9" height="2.9"/>
<rect x="243.0" y="179.2" width="2.9" height="2.9"/>
<rect x="248.0" y="179.2" width="2.9" height="2.9"/>
<rect x="252.9" y="179.2" width="2.9" height="2.9"/>
<rect x="257.4" y="179.2" width="2.9" height="2.9"/>
<rect x="262.2" y="179.2" width="2.9" height="2.9"/>
<rect x="240.5" y="183.0" width="2.9" height="2.9"/>
<rect x="245.5" y="183.0" width="2.9" height="2.9"/>
<rect x="249.9" y="183.0" width="2.9" height="2.9"/>
<rect x="254.4" y="183.0" width="2.9" height="2.9"/>
<rect x="230.6" y="184.5" width="2.9" height="2.9"/>
<rect x="264.8" y="184.5" width="2.9" height="2.9"/>
<rect x="235.5" y="185.1" width="2.9" height="2.9"/>
<rect x="259.9" y="185.1" width="2.9" height="2.9"/>
<rect x="240.5" y="187.5" width="2.9" height="2.9"/>
<rect x="245.5" y="187.5" width="2.9" height="2.9"/>
<rect x="249.9" y="187.5" width="2.9" height="2.9"/>
<rect x="254.9" y="187.5" width="2.9" height="2.9"/>
<rect x="233.1" y="188.9" width="2.9" height="2.9"/>
<rect x="262.2" y="188.9" width="2.9" height="2.9"/>
<rect x="238.0" y="189.9" width="2.9" height="2.9"/>
<rect x="257.4" y="190.4" width="2.9" height="2.9"/>
<rect x="243.0" y="190.9" width="2.9" height="2.9"/>
<rect x="248.0" y="190.9" width="2.9" height="2.9"/>
<rect x="252.9" y="190.9" width="2.9" height="2.9"/>
<rect x="245.5" y="192.9" width="2.9" height="2.9"/>
<rect x="249.9" y="192.9" width="2.9" height="2.9"/>
<rect x="233.1" y="194.9" width="2.9" height="2.9"/>
<rect x="238.0" y="194.9" width="2.9" height="2.9"/>
<rect x="243.0" y="194.9" width="2.9" height="2.9"/>
<rect x="248.0" y="194.9" width="2.9" height="2.9"/>
<rect x="252.9" y="194.9" width="2.9" height="2.9"/>
<rect x="257.4" y="194.9" width="2.9" height="2.9"/>
<rect x="262.2" y="194.9" width="2.9" height="2.9"/>
<rect x="230.6" y="196.4" width="2.9" height="2.9"/>
<rect x="235.5" y="196.4" width="2.9" height="2.9"/>
<rect x="240.5" y="196.4" width="2.9" height="2.9"/>
<rect x="245.5" y="196.4" width="2.9" height="2.9"/>
<rect x="249.9" y="196.4" width="2.9" height="2.9"/>
<rect x="254.9" y="196.4" width="2.9" height="2.9"/>
<rect x="259.9" y="196.4" width="2.9" height="2.9"/>
<rect x="264.8" y="196.4" width="2.9" height="2.9"/>
<rect x="240.5" y="198.2" width="2.9" height="2.9"/>
<rect x="249.9" y="198.2" width="2.9" height="2.9"/>
<rect x="254.9" y="198.2" width="2.9" height="2.9"/>
<rect x="249.9" y="200.9" width="2.9" height="2.9"/>
<rect x="245.0" y="203.2" width="2.9" height="2.9"/>
<line x1="168.1" y1="191.2" x2="209.1" y2="191.2" stroke="#111" stroke-width="1.25"/>
<line x1="178.0" y1="189.6" x2="198.5" y2="189.6" stroke="#111" stroke-width="1.25"/>
<line x1="178.0" y1="192.8" x2="198.5" y2="192.8" stroke="#111" stroke-width="1.25"/>
<line x1="229.0" y1="182.4" x2="269.2" y2="182.4" stroke="#111" stroke-width="1.25"/>
<line x1="238.0" y1="180.8" x2="260.8" y2="180.8" stroke="#111" stroke-width="1.25"/>
<line x1="238.0" y1="184.2" x2="260.8" y2="184.2" stroke="#111" stroke-width="1.25"/>
<line x1="306.2" y1="127.4" x2="306.2" y2="166.0" stroke="#111" stroke-width="1.15"/>
<line x1="304.7" y1="166.0" x2="307.7" y2="166.0" stroke="#111" stroke-width="1.15"/>
<line x1="306.2" y1="171.4" x2="306.2" y2="210.0" stroke="#111" stroke-width="1.15"/>
<line x1="304.7" y1="171.4" x2="307.7" y2="171.4" stroke="#111" stroke-width="1.15"/>
<line x1="304.0" y1="127.4" x2="306.2" y2="127.4" stroke="#111" stroke-width="1.15"/>
<text x="303.5" y="129.31" font-size="5.3" font-weight="bold" stroke="#111" stroke-width="0.3" text-anchor="end" fill="#111">25</text>
<line x1="304.0" y1="136.4" x2="306.2" y2="136.4" stroke="#111" stroke-width="1.15"/>
<text x="303.5" y="138.31" font-size="5.3" font-weight="bold" stroke="#111" stroke-width="0.3" text-anchor="end" fill="#111">20</text>
<line x1="304.0" y1="144.8" x2="306.2" y2="144.8" stroke="#111" stroke-width="1.15"/>
<text x="303.5" y="146.71" font-size="5.3" font-weight="bold" stroke="#111" stroke-width="0.3" text-anchor="end" fill="#111">15</text>
<line x1="304.0" y1="153.5" x2="306.2" y2="153.5" stroke="#111" stroke-width="1.15"/>
<text x="303.5" y="155.41" font-size="5.3" font-weight="bold" stroke="#111" stroke-width="0.3" text-anchor="end" fill="#111">10</text>
<line x1="304.0" y1="162.2" x2="306.2" y2="162.2" stroke="#111" stroke-width="1.15"/>
<text x="303.5" y="164.11" font-size="5.3" font-weight="bold" stroke="#111" stroke-width="0.3" text-anchor="end" fill="#111">5</text>
<line x1="304.0" y1="171.9" x2="306.2" y2="171.9" stroke="#111" stroke-width="1.15"/>
<text x="303.5" y="173.81" font-size="5.3" font-weight="bold" stroke="#111" stroke-width="0.3" text-anchor="end" fill="#111">3</text>
<line x1="304.0" y1="185.0" x2="306.2" y2="185.0" stroke="#111" stroke-width="1.15"/>
<text x="303.5" y="186.91" font-size="5.3" font-weight="bold" stroke="#111" stroke-width="0.3" text-anchor="end" fill="#111">2</text>
<line x1="304.0" y1="197.4" x2="306.2" y2="197.4" stroke="#111" stroke-width="1.15"/>
<text x="303.5" y="199.31" font-size="5.3" font-weight="bold" stroke="#111" stroke-width="0.3" text-anchor="end" fill="#111">1</text>
<line x1="304.0" y1="210.2" x2="306.2" y2="210.2" stroke="#111" stroke-width="1.15"/>
<text x="303.5" y="212.11" font-size="5.3" font-weight="bold" stroke="#111" stroke-width="0.3" text-anchor="end" fill="#111">0</text>
<line x1="306.2" y1="210.0" x2="433.0" y2="210.0" stroke="#111" stroke-width="1.15"/>
<line x1="337.7" y1="210.0" x2="337.7" y2="212.0" stroke="#111" stroke-width="1.15"/>
<line x1="400.8" y1="210.0" x2="400.8" y2="212.0" stroke="#111" stroke-width="1.15"/>
<text transform="translate(339.9,217.7) rotate(-45)" font-size="6.0" font-weight="bold" stroke="#111" stroke-width="0.3" text-anchor="end" fill="#111">Non</text>
<text transform="translate(403.6,217.3) rotate(-45)" font-size="6.8" font-weight="bold" stroke="#111" stroke-width="0.3" text-anchor="end" fill="#111">GVHD</text>
<text transform="translate(292.46,167.5) rotate(-90)" font-size="7.1" font-weight="bold" stroke="#111" stroke-width="0.3" text-anchor="middle" textLength="64.5" lengthAdjust="spacingAndGlyphs" fill="#111">Relative Expression</text>
<text x="347.7" y="120.9" font-size="6.9" font-weight="bold" stroke="#111" stroke-width="0.3" text-anchor="start" textLength="26.7" lengthAdjust="spacingAndGlyphs" fill="#111">miR-155</text>
<text x="351.1" y="133.6" font-size="6.4" stroke="#333" stroke-width="0.18" text-anchor="start" textLength="20.6" lengthAdjust="spacingAndGlyphs" fill="#333">P=0.05</text>
<polyline points="339.0,147.0 339.0,136.9 391.5,136.9 391.5,146.3" fill="none" stroke="#111" stroke-width="1.3" stroke-linejoin="miter"/>
<circle cx="337.9" cy="180.3" r="1.55"/>
<circle cx="333.0" cy="185.5" r="1.55"/>
<circle cx="337.9" cy="185.5" r="1.55"/>
<circle cx="342.9" cy="185.5" r="1.55"/>
<circle cx="330.4" cy="188.5" r="1.55"/>
<circle cx="335.6" cy="190.3" r="1.55"/>
<circle cx="345.6" cy="189.4" r="1.55"/>
<circle cx="340.5" cy="192.1" r="1.55"/>
<circle cx="320.0" cy="194.1" r="1.55"/>
<circle cx="325.4" cy="195.0" r="1.55"/>
<circle cx="350.7" cy="194.5" r="1.55"/>
<circle cx="355.7" cy="193.6" r="1.55"/>
<circle cx="330.0" cy="197.0" r="1.55"/>
<circle cx="334.0" cy="197.0" r="1.55"/>
<circle cx="338.0" cy="197.0" r="1.55"/>
<circle cx="342.0" cy="197.0" r="1.55"/>
<circle cx="322.7" cy="199.3" r="1.55"/>
<circle cx="327.7" cy="200.2" r="1.55"/>
<circle cx="348.0" cy="200.2" r="1.55"/>
<circle cx="343.0" cy="201.1" r="1.55"/>
<circle cx="353.0" cy="199.0" r="1.55"/>
<circle cx="332.6" cy="202.5" r="1.55"/>
<circle cx="337.6" cy="202.9" r="1.55"/>
<circle cx="320.4" cy="204.3" r="1.55"/>
<circle cx="325.4" cy="204.3" r="1.55"/>
<circle cx="345.7" cy="204.3" r="1.55"/>
<circle cx="350.7" cy="204.3" r="1.55"/>
<circle cx="355.7" cy="204.3" r="1.55"/>
<circle cx="329.9" cy="207.0" r="1.55"/>
<circle cx="335.6" cy="208.3" r="1.55"/>
<circle cx="340.5" cy="207.2" r="1.55"/>
<rect x="399.6" y="135.2" width="2.9" height="2.9"/>
<rect x="399.6" y="148.4" width="2.9" height="2.9"/>
<rect x="396.4" y="156.7" width="2.9" height="2.9"/>
<rect x="401.7" y="156.7" width="2.9" height="2.9"/>
<rect x="383.9" y="160.8" width="2.9" height="2.9"/>
<rect x="414.6" y="160.8" width="2.9" height="2.9"/>
<rect x="388.1" y="161.4" width="2.9" height="2.9"/>
<rect x="409.9" y="161.4" width="2.9" height="2.9"/>
<rect x="392.2" y="161.9" width="2.9" height="2.9"/>
<rect x="405.4" y="161.9" width="2.9" height="2.9"/>
<rect x="396.4" y="162.2" width="2.9" height="2.9"/>
<rect x="400.6" y="162.2" width="2.9" height="2.9"/>
<rect x="391.9" y="171.0" width="2.9" height="2.9"/>
<rect x="396.8" y="171.0" width="2.9" height="2.9"/>
<rect x="402.2" y="171.0" width="2.9" height="2.9"/>
<rect x="407.2" y="171.0" width="2.9" height="2.9"/>
<rect x="402.2" y="173.2" width="2.9" height="2.9"/>
<rect x="396.8" y="177.9" width="2.9" height="2.9"/>
<rect x="402.2" y="177.9" width="2.9" height="2.9"/>
<rect x="389.2" y="182.8" width="2.9" height="2.9"/>
<rect x="394.1" y="182.8" width="2.9" height="2.9"/>
<rect x="398.4" y="182.8" width="2.9" height="2.9"/>
<rect x="403.9" y="182.8" width="2.9" height="2.9"/>
<rect x="409.4" y="182.8" width="2.9" height="2.9"/>
<rect x="398.9" y="186.8" width="2.9" height="2.9"/>
<rect x="412.1" y="189.6" width="2.9" height="2.9"/>
<rect x="382.6" y="197.6" width="2.9" height="2.9"/>
<rect x="382.6" y="200.1" width="2.9" height="2.9"/>
<rect x="386.9" y="192.1" width="2.9" height="2.9"/>
<rect x="401.2" y="192.1" width="2.9" height="2.9"/>
<rect x="386.9" y="194.6" width="2.9" height="2.9"/>
<rect x="396.2" y="194.6" width="2.9" height="2.9"/>
<rect x="401.2" y="194.6" width="2.9" height="2.9"/>
<rect x="386.9" y="197.1" width="2.9" height="2.9"/>
<rect x="396.2" y="197.1" width="2.9" height="2.9"/>
<rect x="401.2" y="197.1" width="2.9" height="2.9"/>
<rect x="386.9" y="199.6" width="2.9" height="2.9"/>
<rect x="396.2" y="199.6" width="2.9" height="2.9"/>
<rect x="401.2" y="199.6" width="2.9" height="2.9"/>
<rect x="391.4" y="192.6" width="2.9" height="2.9"/>
<rect x="405.6" y="192.6" width="2.9" height="2.9"/>
<rect x="409.9" y="192.6" width="2.9" height="2.9"/>
<rect x="391.4" y="195.1" width="2.9" height="2.9"/>
<rect x="405.6" y="195.1" width="2.9" height="2.9"/>
<rect x="409.9" y="195.1" width="2.9" height="2.9"/>
<rect x="391.4" y="197.6" width="2.9" height="2.9"/>
<rect x="405.6" y="197.6" width="2.9" height="2.9"/>
<rect x="409.9" y="197.6" width="2.9" height="2.9"/>
<rect x="391.4" y="200.1" width="2.9" height="2.9"/>
<rect x="405.6" y="200.1" width="2.9" height="2.9"/>
<rect x="409.9" y="200.1" width="2.9" height="2.9"/>
<rect x="414.2" y="195.6" width="2.9" height="2.9"/>
<rect x="414.2" y="198.1" width="2.9" height="2.9"/>
<rect x="414.2" y="200.6" width="2.9" height="2.9"/>
<rect x="417.2" y="198.6" width="2.9" height="2.9"/>
<rect x="417.2" y="200.9" width="2.9" height="2.9"/>
<rect x="384.8" y="203.8" width="2.9" height="2.9"/>
<rect x="389.2" y="203.8" width="2.9" height="2.9"/>
<rect x="394.1" y="203.8" width="2.9" height="2.9"/>
<rect x="398.4" y="203.8" width="2.9" height="2.9"/>
<rect x="403.4" y="203.8" width="2.9" height="2.9"/>
<rect x="408.2" y="203.8" width="2.9" height="2.9"/>
<rect x="412.7" y="203.8" width="2.9" height="2.9"/>
<rect x="398.9" y="205.9" width="2.9" height="2.9"/>
<line x1="316.4" y1="197.3" x2="359.3" y2="197.3" stroke="#111" stroke-width="1.25"/>
<line x1="326.8" y1="196.0" x2="348.5" y2="196.0" stroke="#111" stroke-width="1.25"/>
<line x1="326.8" y1="198.5" x2="348.5" y2="198.5" stroke="#111" stroke-width="1.25"/>
<line x1="380.2" y1="182.2" x2="421.8" y2="182.2" stroke="#111" stroke-width="1.25"/>
<line x1="390.6" y1="176.9" x2="410.4" y2="176.9" stroke="#111" stroke-width="1.25"/>
<line x1="390.6" y1="187.5" x2="410.4" y2="187.5" stroke="#111" stroke-width="1.25"/>
<line x1="401.0" y1="176.9" x2="401.0" y2="187.5" stroke="#111" stroke-width="1.2"/>
<line x1="29.2" y1="263.3" x2="29.2" y2="368.3" stroke="#111" stroke-width="1.15"/>
<line x1="26.8" y1="263.3" x2="29.2" y2="263.3" stroke="#111" stroke-width="1.15"/>
<text x="26.0" y="265.4" font-size="6.0" font-weight="bold" stroke="#111" stroke-width="0.3" text-anchor="end" fill="#111">100%</text>
<line x1="26.8" y1="284.5" x2="29.2" y2="284.5" stroke="#111" stroke-width="1.15"/>
<text x="26.0" y="286.6" font-size="6.0" font-weight="bold" stroke="#111" stroke-width="0.3" text-anchor="end" fill="#111">80%</text>
<line x1="26.8" y1="305.5" x2="29.2" y2="305.5" stroke="#111" stroke-width="1.15"/>
<text x="26.0" y="307.6" font-size="6.0" font-weight="bold" stroke="#111" stroke-width="0.3" text-anchor="end" fill="#111">60%</text>
<line x1="26.8" y1="326.2" x2="29.2" y2="326.2" stroke="#111" stroke-width="1.15"/>
<text x="26.0" y="328.3" font-size="6.0" font-weight="bold" stroke="#111" stroke-width="0.3" text-anchor="end" fill="#111">40%</text>
<line x1="26.8" y1="346.9" x2="29.2" y2="346.9" stroke="#111" stroke-width="1.15"/>
<text x="26.0" y="349.0" font-size="6.0" font-weight="bold" stroke="#111" stroke-width="0.3" text-anchor="end" fill="#111">20%</text>
<line x1="26.8" y1="368.1" x2="29.2" y2="368.1" stroke="#111" stroke-width="1.15"/>
<text x="26.0" y="370.2" font-size="6.0" font-weight="bold" stroke="#111" stroke-width="0.3" text-anchor="end" fill="#111">0%</text>
<text transform="translate(6.9,314.9) rotate(-90)" font-size="6.7" font-weight="bold" stroke="#111" stroke-width="0.3" text-anchor="middle" textLength="40.8" lengthAdjust="spacingAndGlyphs" fill="#111">Sensitivity %</text>
<line x1="40.9" y1="378.2" x2="157.5" y2="378.2" stroke="#111" stroke-width="1.15"/>
<line x1="40.9" y1="377.7" x2="40.9" y2="380.0" stroke="#111" stroke-width="1.15"/>
<text x="40.9" y="386.4" font-size="5.5" font-weight="bold" stroke="#111" stroke-width="0.3" text-anchor="middle" fill="#111">0%</text>
<line x1="64.2" y1="377.7" x2="64.2" y2="380.0" stroke="#111" stroke-width="1.15"/>
<text x="64.2" y="386.4" font-size="5.5" font-weight="bold" stroke="#111" stroke-width="0.3" text-anchor="middle" fill="#111">20%</text>
<line x1="87.5" y1="377.7" x2="87.5" y2="380.0" stroke="#111" stroke-width="1.15"/>
<text x="87.5" y="386.4" font-size="5.5" font-weight="bold" stroke="#111" stroke-width="0.3" text-anchor="middle" fill="#111">40%</text>
<line x1="110.8" y1="377.7" x2="110.8" y2="380.0" stroke="#111" stroke-width="1.15"/>
<text x="110.8" y="386.4" font-size="5.5" font-weight="bold" stroke="#111" stroke-width="0.3" text-anchor="middle" fill="#111">60%</text>
<line x1="134.1" y1="377.7" x2="134.1" y2="380.0" stroke="#111" stroke-width="1.15"/>
<text x="134.1" y="386.4" font-size="5.5" font-weight="bold" stroke="#111" stroke-width="0.3" text-anchor="middle" fill="#111">80%</text>
<line x1="157.4" y1="377.7" x2="157.4" y2="380.0" stroke="#111" stroke-width="1.15"/>
<text x="157.4" y="386.4" font-size="5.5" font-weight="bold" stroke="#111" stroke-width="0.3" text-anchor="middle" fill="#111">100%</text>
<text x="66.4" y="395.2" font-size="7.5" font-weight="bold" stroke="#111" stroke-width="0.3" text-anchor="start" textLength="70.1" lengthAdjust="spacingAndGlyphs" fill="#111">100% - Specificity%</text>
<text x="78.5" y="251.0" font-size="7.4" font-weight="bold" stroke="#111" stroke-width="0.3" text-anchor="start" textLength="57.7" lengthAdjust="spacingAndGlyphs" fill="#111">Combined panel</text>
<line x1="106.9" y1="253.2" x2="106.9" y2="264.0" stroke="#111" stroke-width="1.3"/>
<polygon points="104.1,263.0 109.7,263.0 106.9,271.9" />
<polyline points="43.0,368.0 43.0,357.0 48.0,357.0 48.0,348.0 53.0,348.0 53.0,338.0 56.4,338.0 56.4,325.2 56.4,324.4 59.3,324.4 59.3,323.7 62.3,323.7 62.3,322.2 64.8,322.2 64.8,320.7 67.3,320.7 67.3,319.2 69.8,319.2 69.8,317.7 72.3,317.7 72.3,316.3 74.7,316.3 74.7,314.8 77.2,314.8 77.2,312.8 79.7,312.8 79.7,310.8 82.1,310.8 82.1,308.8 84.6,308.8 84.6,307.8 87.1,307.8 87.1,306.8 89.6,306.8 89.6,305.8 92.1,305.8 92.1,305.0 94.6,305.0 94.6,304.3 97.0,304.3 97.0,303.5 99.5,303.5 99.5,303.0 102.2,303.0 102.2,302.5 105.0,302.5 105.0,302.0 107.5,302.0 107.5,301.5 110.0,301.5 110.0,300.4 112.9,300.4 112.9,299.2 115.8,299.2 115.8,297.1 117.9,297.1 117.9,295.0 120.0,295.0 120.0,291.9 122.7,291.9 122.7,288.7 125.4,288.7 125.4,286.5 126.7,286.5 126.7,284.2 127.9,284.2 127.9,282.0 129.2,282.0 129.2,280.0 130.6,280.0 130.6,278.0 132.1,278.0 132.1,277.1 134.8,277.1 134.8,276.3 137.5,276.3 137.5,273.8 141.3,273.8 141.3,273.0 144.2,273.0 144.2,272.1 147.1,272.1 147.1,271.3 150.0,271.3 150.0,271.1 152.3,271.1 152.3,270.8 154.6,270.8 154.6,270.6 156.9,270.6 156.9,265.6" fill="none" stroke="#111" stroke-width="0.9" stroke-linejoin="miter" stroke-dasharray="2,1.3"/>
<polyline points="42.0,368.0 42.0,355.0 46.0,355.0 46.0,345.0 48.9,345.0 48.9,331.0 51.2,331.0 51.2,338.0 54.9,338.0 54.9,326.0 60.0,326.0 60.0,322.0 64.6,322.0 64.6,318.5 70.0,318.5 70.0,314.0 75.0,314.0 75.0,310.0 80.0,310.0 80.0,306.0 86.0,306.0 86.0,302.0 93.0,302.0 93.0,297.5 100.0,297.5 100.0,294.0 108.0,294.0 108.0,289.0 116.0,289.0 116.0,287.3 118.5,287.3 118.5,282.0 124.0,282.0 124.0,278.0 130.0,278.0 130.0,273.0 138.0,273.0 138.0,268.5 146.0,268.5 146.0,266.0 157.0,266.0" fill="none" stroke="#111" stroke-width="0.9" stroke-linejoin="miter"/>
<polyline points="41.5,368.0 41.5,352.0 45.0,352.0 45.0,346.0 48.9,346.0 48.9,337.8 54.1,337.8 54.1,319.2 56.0,319.2 56.0,311.0 66.8,311.0 66.8,308.8 69.0,308.8 69.0,292.4 79.4,292.4 79.4,290.0 86.0,290.0 86.0,287.0 92.0,287.0 92.0,284.5 101.0,284.5 101.0,284.1 103.9,284.1 103.9,283.8 106.8,283.8 106.8,283.4 109.6,283.4 109.6,283.0 112.5,283.0 118.5,283.0 118.5,276.3 124.0,276.3 124.0,273.0 130.0,273.0 130.0,270.0 136.0,270.0 136.0,267.0 142.0,267.0 142.0,265.5 157.0,265.5" fill="none" stroke="#111" stroke-width="0.9" stroke-linejoin="miter" stroke-dasharray="2,1.3"/>
<polyline points="40.9,368.0 40.9,342.3 50.4,342.3 50.4,331.0 51.2,331.0 51.2,320.0 54.9,320.0 54.9,319.2 57.3,319.2 57.3,318.5 59.7,318.5 59.7,317.8 62.2,317.8 62.2,317.0 64.6,317.0 64.6,313.3 66.0,313.3 66.0,311.5 69.0,311.5 69.0,309.6 72.0,309.6 72.0,307.7 74.6,307.7 74.6,305.8 77.2,305.8 77.2,304.3 78.7,304.3 78.7,303.4 81.3,303.4 81.3,302.4 83.9,302.4 83.9,301.5 86.5,301.5 86.5,300.6 89.1,300.6 89.1,300.2 91.7,300.2 91.7,299.9 94.3,299.9 94.3,299.5 96.9,299.5 96.9,299.1 99.5,299.1 99.5,296.8 99.6,296.8 99.6,294.6 99.8,294.6 99.8,292.3 99.9,292.3 99.9,290.0 100.0,290.0 100.0,287.7 101.7,287.7 101.7,285.3 103.3,285.3 103.3,283.0 105.0,283.0 105.0,281.0 107.5,281.0 107.5,279.0 110.0,279.0 110.0,278.0 112.5,278.0 112.5,277.0 115.0,277.0 115.0,276.0 117.5,276.0 117.5,274.7 120.0,274.7 120.0,273.3 122.5,273.3 122.5,272.0 125.0,272.0 125.0,270.2 128.2,270.2 128.2,268.5 131.3,268.5 131.3,267.2 134.4,267.2 134.4,266.0 137.5,266.0 137.5,265.7 140.0,265.7 140.0,265.3 142.5,265.3 142.5,265.0 145.0,265.0 156.3,265.0 156.3,267.5" fill="none" stroke="#111" stroke-width="0.9" stroke-linejoin="miter"/>
<polyline points="40.9,368.2 40.9,350.0 42.5,350.0 42.5,344.5 51.9,344.5 51.9,316.3 55.6,316.3 55.6,312.5 66.8,312.5 66.8,309.0 66.8,308.0 69.8,308.0 69.8,305.8 73.5,305.8 73.5,302.9 77.2,302.9 77.2,299.1 79.4,299.1 79.4,296.9 79.8,296.9 79.8,294.7 80.2,294.7 80.2,291.7 83.2,291.7 83.2,288.0 86.1,288.0 86.1,287.2 88.3,287.2 88.3,286.5 90.6,286.5 90.6,285.2 92.8,285.2 92.8,284.0 95.0,284.0 95.0,281.4 96.5,281.4 96.5,278.8 97.9,278.8 97.9,276.6 100.2,276.6 100.2,274.3 102.4,274.3 102.4,272.5 105.0,272.5 118.8,272.5 118.8,271.0 120.6,271.0 120.6,270.2 123.4,270.2 123.4,269.4 126.3,269.4 126.3,268.1 128.8,268.1 135.0,268.1 135.0,265.0 136.3,265.0 136.3,263.8 138.1,263.8 152.5,263.8" fill="none" stroke="#111" stroke-width="1.9" stroke-linejoin="miter"/>
<line x1="116.0" y1="278.1" x2="155.6" y2="278.1" stroke="#111" stroke-width="1.3"/>
<polygon points="112.0,278.1 117.5,275.70000000000005 117.5,280.5"/>
<text x="161.1" y="280.1" font-size="6.4" font-weight="bold" stroke="#111" stroke-width="0.3" text-anchor="start" textLength="23.5" lengthAdjust="spacingAndGlyphs" fill="#111">miR-93*</text>
<line x1="117.8" y1="287.8" x2="155.6" y2="287.8" stroke="#111" stroke-width="1.3"/>
<polygon points="113.8,287.8 119.3,285.40000000000003 119.3,290.2"/>
<text x="161.1" y="289.8" font-size="6.4" font-weight="bold" stroke="#111" stroke-width="0.3" text-anchor="start" textLength="25.0" lengthAdjust="spacingAndGlyphs" fill="#111">miR-423</text>
<line x1="76.3" y1="297.2" x2="155.6" y2="297.2" stroke="#111" stroke-width="1.3"/>
<polygon points="72.3,297.2 77.8,294.8 77.8,299.59999999999997"/>
<text x="161.1" y="299.2" font-size="6.4" font-weight="bold" stroke="#111" stroke-width="0.3" text-anchor="start" textLength="25.0" lengthAdjust="spacingAndGlyphs" fill="#111">miR-377</text>
<line x1="104.5" y1="305.7" x2="155.6" y2="305.7" stroke="#111" stroke-width="1.3"/>
<polygon points="100.5,305.7 106.0,303.3 106.0,308.09999999999997"/>
<text x="161.1" y="307.7" font-size="6.4" font-weight="bold" stroke="#111" stroke-width="0.3" text-anchor="start" textLength="38.5" lengthAdjust="spacingAndGlyphs" fill="#111">miR-199a-3p</text>
<text x="104.6" y="328.7" font-size="7.0" stroke="#111" stroke-width="0.18" text-anchor="start" textLength="32.5" lengthAdjust="spacingAndGlyphs" fill="#111">AUC=0.76</text>
<text x="104.6" y="338.6" font-size="7.0" stroke="#111" stroke-width="0.18" text-anchor="start" textLength="30.3" lengthAdjust="spacingAndGlyphs" fill="#111">P&lt; 0.0001</text>
<text x="248.8" y="264.5" font-size="6.8" font-weight="bold" stroke="#111" stroke-width="0.3" text-anchor="start" textLength="78.2" lengthAdjust="spacingAndGlyphs" fill="#111">sIL-2Rα 6 wks post-HCT</text>
<text x="281.3" y="281.8" font-size="6.4" stroke="#111" stroke-width="0.18" text-anchor="start" textLength="8.7" lengthAdjust="spacingAndGlyphs" fill="#111">NS</text>
<polyline points="263.3,298.0 263.3,288.3 315.8,288.3 315.8,298.0" fill="none" stroke="#111" stroke-width="1.3" stroke-linejoin="miter"/>
<line x1="231.4" y1="293.2" x2="231.4" y2="376.8" stroke="#111" stroke-width="1.15"/>
<line x1="229.0" y1="293.2" x2="231.4" y2="293.2" stroke="#111" stroke-width="1.15"/>
<text x="228.4" y="295.3" font-size="6.0" font-weight="bold" stroke="#111" stroke-width="0.3" text-anchor="end" fill="#111">2500</text>
<line x1="229.0" y1="309.8" x2="231.4" y2="309.8" stroke="#111" stroke-width="1.15"/>
<text x="228.4" y="311.9" font-size="6.0" font-weight="bold" stroke="#111" stroke-width="0.3" text-anchor="end" fill="#111">2000</text>
<line x1="229.0" y1="326.3" x2="231.4" y2="326.3" stroke="#111" stroke-width="1.15"/>
<text x="228.4" y="328.4" font-size="6.0" font-weight="bold" stroke="#111" stroke-width="0.3" text-anchor="end" fill="#111">1500</text>
<line x1="229.0" y1="342.9" x2="231.4" y2="342.9" stroke="#111" stroke-width="1.15"/>
<text x="228.4" y="345.0" font-size="6.0" font-weight="bold" stroke="#111" stroke-width="0.3" text-anchor="end" fill="#111">1000</text>
<line x1="229.0" y1="359.6" x2="231.4" y2="359.6" stroke="#111" stroke-width="1.15"/>
<text x="228.4" y="361.7" font-size="6.0" font-weight="bold" stroke="#111" stroke-width="0.3" text-anchor="end" fill="#111">500</text>
<line x1="229.0" y1="376.3" x2="231.4" y2="376.3" stroke="#111" stroke-width="1.15"/>
<text x="228.4" y="378.4" font-size="6.0" font-weight="bold" stroke="#111" stroke-width="0.3" text-anchor="end" fill="#111">0</text>
<text transform="translate(212.2,336.8) rotate(-90)" font-size="6.3" font-weight="bold" stroke="#111" stroke-width="0.3" text-anchor="middle" textLength="45.6" lengthAdjust="spacingAndGlyphs" fill="#111">sIL-2Rα (pg/ml)</text>
<line x1="231.4" y1="376.8" x2="358.2" y2="376.8" stroke="#111" stroke-width="1.15"/>
<line x1="263.5" y1="376.8" x2="263.5" y2="379.4" stroke="#111" stroke-width="1.15"/>
<text transform="translate(265.9,384.0) rotate(-45)" font-size="6.3" font-weight="bold" stroke="#111" stroke-width="0.3" text-anchor="end" fill="#111">Non</text>
<line x1="326.2" y1="376.8" x2="326.2" y2="379.4" stroke="#111" stroke-width="1.15"/>
<text transform="translate(329.1,384.8) rotate(-45)" font-size="6.9" font-weight="bold" stroke="#111" stroke-width="0.3" text-anchor="end" fill="#111">GVHD</text>
<circle cx="258.5" cy="324.5" r="1.55"/>
<circle cx="268.7" cy="324.5" r="1.55"/>
<circle cx="263.9" cy="327.0" r="1.55"/>
<circle cx="260.8" cy="341.3" r="1.55"/>
<circle cx="266.0" cy="340.7" r="1.55"/>
<circle cx="255.7" cy="343.7" r="1.55"/>
<circle cx="260.8" cy="347.3" r="1.55"/>
<circle cx="266.0" cy="347.9" r="1.55"/>
<circle cx="271.0" cy="346.1" r="1.55"/>
<circle cx="257.9" cy="355.0" r="1.55"/>
<circle cx="262.0" cy="355.0" r="1.55"/>
<circle cx="265.6" cy="355.0" r="1.55"/>
<circle cx="261.0" cy="358.0" r="1.55"/>
<circle cx="265.6" cy="359.0" r="1.55"/>
<circle cx="245.4" cy="362.4" r="1.55"/>
<circle cx="250.7" cy="362.4" r="1.55"/>
<circle cx="255.5" cy="362.4" r="1.55"/>
<circle cx="260.2" cy="362.4" r="1.55"/>
<circle cx="265.6" cy="362.4" r="1.55"/>
<circle cx="271.0" cy="362.4" r="1.55"/>
<circle cx="275.7" cy="362.4" r="1.55"/>
<circle cx="281.1" cy="362.4" r="1.55"/>
<circle cx="248.3" cy="365.5" r="1.55"/>
<circle cx="253.1" cy="365.5" r="1.55"/>
<circle cx="257.9" cy="365.5" r="1.55"/>
<circle cx="260.8" cy="365.5" r="1.55"/>
<circle cx="265.6" cy="365.5" r="1.55"/>
<circle cx="268.6" cy="365.5" r="1.55"/>
<circle cx="273.3" cy="365.5" r="1.55"/>
<circle cx="278.3" cy="365.5" r="1.55"/>
<circle cx="258.5" cy="367.9" r="1.55"/>
<circle cx="268.6" cy="367.9" r="1.55"/>
<circle cx="274.0" cy="367.9" r="1.55"/>
<circle cx="263.2" cy="370.2" r="1.55"/>
<circle cx="268.6" cy="370.2" r="1.55"/>
<rect x="325.1" y="300.1" width="2.9" height="2.9"/>
<rect x="325.1" y="307.6" width="2.9" height="2.9"/>
<rect x="317.6" y="311.2" width="2.9" height="2.9"/>
<rect x="327.6" y="311.9" width="2.9" height="2.9"/>
<rect x="332.9" y="310.4" width="2.9" height="2.9"/>
<rect x="322.6" y="315.1" width="2.9" height="2.9"/>
<rect x="317.6" y="320.6" width="2.9" height="2.9"/>
<rect x="322.6" y="322.6" width="2.9" height="2.9"/>
<rect x="332.9" y="320.9" width="2.9" height="2.9"/>
<rect x="327.6" y="325.8" width="2.9" height="2.9"/>
<rect x="319.2" y="336.6" width="2.9" height="2.9"/>
<rect x="324.8" y="336.6" width="2.9" height="2.9"/>
<rect x="329.9" y="336.6" width="2.9" height="2.9"/>
<rect x="317.2" y="337.4" width="2.9" height="2.9"/>
<rect x="319.6" y="336.2" width="2.9" height="2.9"/>
<rect x="324.9" y="337.2" width="2.9" height="2.9"/>
<rect x="329.8" y="336.7" width="2.9" height="2.9"/>
<rect x="321.9" y="342.2" width="2.9" height="2.9"/>
<rect x="327.4" y="341.9" width="2.9" height="2.9"/>
<rect x="332.7" y="340.7" width="2.9" height="2.9"/>
<rect x="309.4" y="344.2" width="2.9" height="2.9"/>
<rect x="314.9" y="344.2" width="2.9" height="2.9"/>
<rect x="335.7" y="344.2" width="2.9" height="2.9"/>
<rect x="340.4" y="344.2" width="2.9" height="2.9"/>
<rect x="319.6" y="347.6" width="2.9" height="2.9"/>
<rect x="324.9" y="347.6" width="2.9" height="2.9"/>
<rect x="329.8" y="347.6" width="2.9" height="2.9"/>
<rect x="309.4" y="350.9" width="2.9" height="2.9"/>
<rect x="339.9" y="350.9" width="2.9" height="2.9"/>
<rect x="314.9" y="354.2" width="2.9" height="2.9"/>
<rect x="319.6" y="354.2" width="2.9" height="2.9"/>
<rect x="324.9" y="354.2" width="2.9" height="2.9"/>
<rect x="329.8" y="354.2" width="2.9" height="2.9"/>
<rect x="307.1" y="356.8" width="2.9" height="2.9"/>
<rect x="321.9" y="356.8" width="2.9" height="2.9"/>
<rect x="327.4" y="356.8" width="2.9" height="2.9"/>
<rect x="342.9" y="356.8" width="2.9" height="2.9"/>
<rect x="311.9" y="359.2" width="2.9" height="2.9"/>
<rect x="317.2" y="359.2" width="2.9" height="2.9"/>
<rect x="322.6" y="359.2" width="2.9" height="2.9"/>
<rect x="327.9" y="359.2" width="2.9" height="2.9"/>
<rect x="332.7" y="359.2" width="2.9" height="2.9"/>
<rect x="338.1" y="359.2" width="2.9" height="2.9"/>
<rect x="311.9" y="361.7" width="2.9" height="2.9"/>
<rect x="317.2" y="361.7" width="2.9" height="2.9"/>
<rect x="322.6" y="361.7" width="2.9" height="2.9"/>
<rect x="327.9" y="361.7" width="2.9" height="2.9"/>
<rect x="332.7" y="361.7" width="2.9" height="2.9"/>
<rect x="338.1" y="361.7" width="2.9" height="2.9"/>
<rect x="317.2" y="363.9" width="2.9" height="2.9"/>
<rect x="327.9" y="363.9" width="2.9" height="2.9"/>
<rect x="338.1" y="363.9" width="2.9" height="2.9"/>
<rect x="309.4" y="365.9" width="2.9" height="2.9"/>
<rect x="314.9" y="365.9" width="2.9" height="2.9"/>
<rect x="319.6" y="365.9" width="2.9" height="2.9"/>
<rect x="324.9" y="365.9" width="2.9" height="2.9"/>
<rect x="329.8" y="365.9" width="2.9" height="2.9"/>
<rect x="335.1" y="365.9" width="2.9" height="2.9"/>
<rect x="340.4" y="365.9" width="2.9" height="2.9"/>
<rect x="319.6" y="370.4" width="2.9" height="2.9"/>
<rect x="329.8" y="370.4" width="2.9" height="2.9"/>
<rect x="324.9" y="372.1" width="2.9" height="2.9"/>
<line x1="242.5" y1="356.1" x2="284.8" y2="356.1" stroke="#111" stroke-width="1.1"/>
<line x1="252.3" y1="353.8" x2="274.6" y2="353.8" stroke="#111" stroke-width="1.1"/>
<line x1="252.3" y1="358.6" x2="274.6" y2="358.6" stroke="#111" stroke-width="1.1"/>
<line x1="305.0" y1="349.3" x2="347.8" y2="349.3" stroke="#111" stroke-width="1.1"/>
<line x1="315.7" y1="347.9" x2="336.5" y2="347.9" stroke="#111" stroke-width="1.1"/>
<line x1="315.7" y1="352.0" x2="336.5" y2="352.0" stroke="#111" stroke-width="1.1"/>
<line x1="263.5" y1="353.8" x2="263.5" y2="358.6" stroke="#111" stroke-width="1.1"/>
<line x1="326.4" y1="347.9" x2="326.4" y2="352.0" stroke="#111" stroke-width="1.1"/>
<text x="402.9" y="251.3" font-size="7.2" font-weight="bold" stroke="#111" stroke-width="0.3" text-anchor="start" textLength="101.3" lengthAdjust="spacingAndGlyphs" fill="#111">ROC curve of all 168 samples</text>
<line x1="382.3" y1="258.7" x2="382.3" y2="370.8" stroke="#111" stroke-width="1.15"/>
<line x1="379.9" y1="258.7" x2="382.3" y2="258.7" stroke="#111" stroke-width="1.15"/>
<text x="379.1" y="260.8" font-size="6.1" font-weight="bold" stroke="#111" stroke-width="0.3" text-anchor="end" fill="#111">100%</text>
<line x1="379.9" y1="281.0" x2="382.3" y2="281.0" stroke="#111" stroke-width="1.15"/>
<text x="379.1" y="283.1" font-size="6.1" font-weight="bold" stroke="#111" stroke-width="0.3" text-anchor="end" fill="#111">80%</text>
<line x1="379.9" y1="303.4" x2="382.3" y2="303.4" stroke="#111" stroke-width="1.15"/>
<text x="379.1" y="305.5" font-size="6.1" font-weight="bold" stroke="#111" stroke-width="0.3" text-anchor="end" fill="#111">60%</text>
<line x1="379.9" y1="325.9" x2="382.3" y2="325.9" stroke="#111" stroke-width="1.15"/>
<text x="379.1" y="328.0" font-size="6.1" font-weight="bold" stroke="#111" stroke-width="0.3" text-anchor="end" fill="#111">40%</text>
<line x1="379.9" y1="348.3" x2="382.3" y2="348.3" stroke="#111" stroke-width="1.15"/>
<text x="379.1" y="350.4" font-size="6.1" font-weight="bold" stroke="#111" stroke-width="0.3" text-anchor="end" fill="#111">20%</text>
<line x1="379.9" y1="370.7" x2="382.3" y2="370.7" stroke="#111" stroke-width="1.15"/>
<text x="379.1" y="372.8" font-size="6.1" font-weight="bold" stroke="#111" stroke-width="0.3" text-anchor="end" fill="#111">0%</text>
<text transform="translate(361.3,314.8) rotate(-90)" font-size="6.6" font-weight="bold" stroke="#111" stroke-width="0.3" text-anchor="middle" textLength="41.2" lengthAdjust="spacingAndGlyphs" fill="#111">Sensitivity %</text>
<line x1="394.1" y1="382.5" x2="512.6" y2="382.5" stroke="#111" stroke-width="1.15"/>
<line x1="394.1" y1="382.0" x2="394.1" y2="384.3" stroke="#111" stroke-width="1.15"/>
<text x="394.1" y="392.0" font-size="6.1" font-weight="bold" stroke="#111" stroke-width="0.3" text-anchor="middle" fill="#111">0%</text>
<line x1="417.8" y1="382.0" x2="417.8" y2="384.3" stroke="#111" stroke-width="1.15"/>
<text x="417.8" y="392.0" font-size="6.1" font-weight="bold" stroke="#111" stroke-width="0.3" text-anchor="middle" fill="#111">20%</text>
<line x1="441.5" y1="382.0" x2="441.5" y2="384.3" stroke="#111" stroke-width="1.15"/>
<text x="441.5" y="392.0" font-size="6.1" font-weight="bold" stroke="#111" stroke-width="0.3" text-anchor="middle" fill="#111">40%</text>
<line x1="465.2" y1="382.0" x2="465.2" y2="384.3" stroke="#111" stroke-width="1.15"/>
<text x="465.2" y="392.0" font-size="6.1" font-weight="bold" stroke="#111" stroke-width="0.3" text-anchor="middle" fill="#111">60%</text>
<line x1="488.9" y1="382.0" x2="488.9" y2="384.3" stroke="#111" stroke-width="1.15"/>
<text x="488.9" y="392.0" font-size="6.1" font-weight="bold" stroke="#111" stroke-width="0.3" text-anchor="middle" fill="#111">80%</text>
<line x1="512.6" y1="382.0" x2="512.6" y2="384.3" stroke="#111" stroke-width="1.15"/>
<text x="512.6" y="392.0" font-size="6.1" font-weight="bold" stroke="#111" stroke-width="0.3" text-anchor="middle" fill="#111">100%</text>
<text x="421.2" y="400.8" font-size="6.0" font-weight="bold" stroke="#111" stroke-width="0.3" text-anchor="start" textLength="59.9" lengthAdjust="spacingAndGlyphs" fill="#111">100% - Specificity%</text>
<text x="439.2" y="310.9" font-size="7.2" stroke="#111" stroke-width="0.18" text-anchor="start" textLength="38.1" lengthAdjust="spacingAndGlyphs" fill="#111">AUC= 0.80</text>
<text x="441.5" y="319.8" font-size="7.2" stroke="#111" stroke-width="0.18" text-anchor="start" textLength="32.9" lengthAdjust="spacingAndGlyphs" fill="#111">P&lt;0.0001</text>
<polyline points="394.3,370.7 394.3,349.4 395.4,349.4 395.4,341.8 396.2,341.8 396.2,326.4 399.0,326.4 399.0,325.0 401.8,325.0 401.8,323.0 404.6,323.0 404.6,319.4 406.0,319.4 406.0,317.4 407.4,317.4 407.4,314.7 408.1,314.7 408.1,303.1 409.7,303.1 409.7,298.5 412.7,298.5 412.7,297.3 416.2,297.3 416.2,296.2 419.6,296.2 419.6,294.6 423.1,294.6 423.1,293.4 427.7,293.4 427.7,292.0 432.3,292.0 432.3,289.7 435.8,289.7 435.8,288.1 439.3,288.1 439.3,286.5 441.6,286.5 441.6,283.5 443.9,283.5 443.9,280.0 445.7,280.0 445.7,277.7 449.7,277.7 449.7,276.6 453.1,276.6 453.1,275.4 456.6,275.4 456.6,273.6 458.9,273.6 458.9,272.6 460.5,272.6 460.5,269.6 463.5,269.6 463.5,268.0 469.3,268.0 469.3,266.9 473.9,266.9 473.9,265.7 478.5,265.7 478.5,263.9 483.1,263.9 483.1,263.2 487.8,263.2 487.8,261.5 492.4,261.5 492.4,260.4 497.0,260.4 497.0,259.2 513.2,259.2" fill="none" stroke="#111" stroke-width="1.2" stroke-linejoin="miter"/>
</svg></body></html>
